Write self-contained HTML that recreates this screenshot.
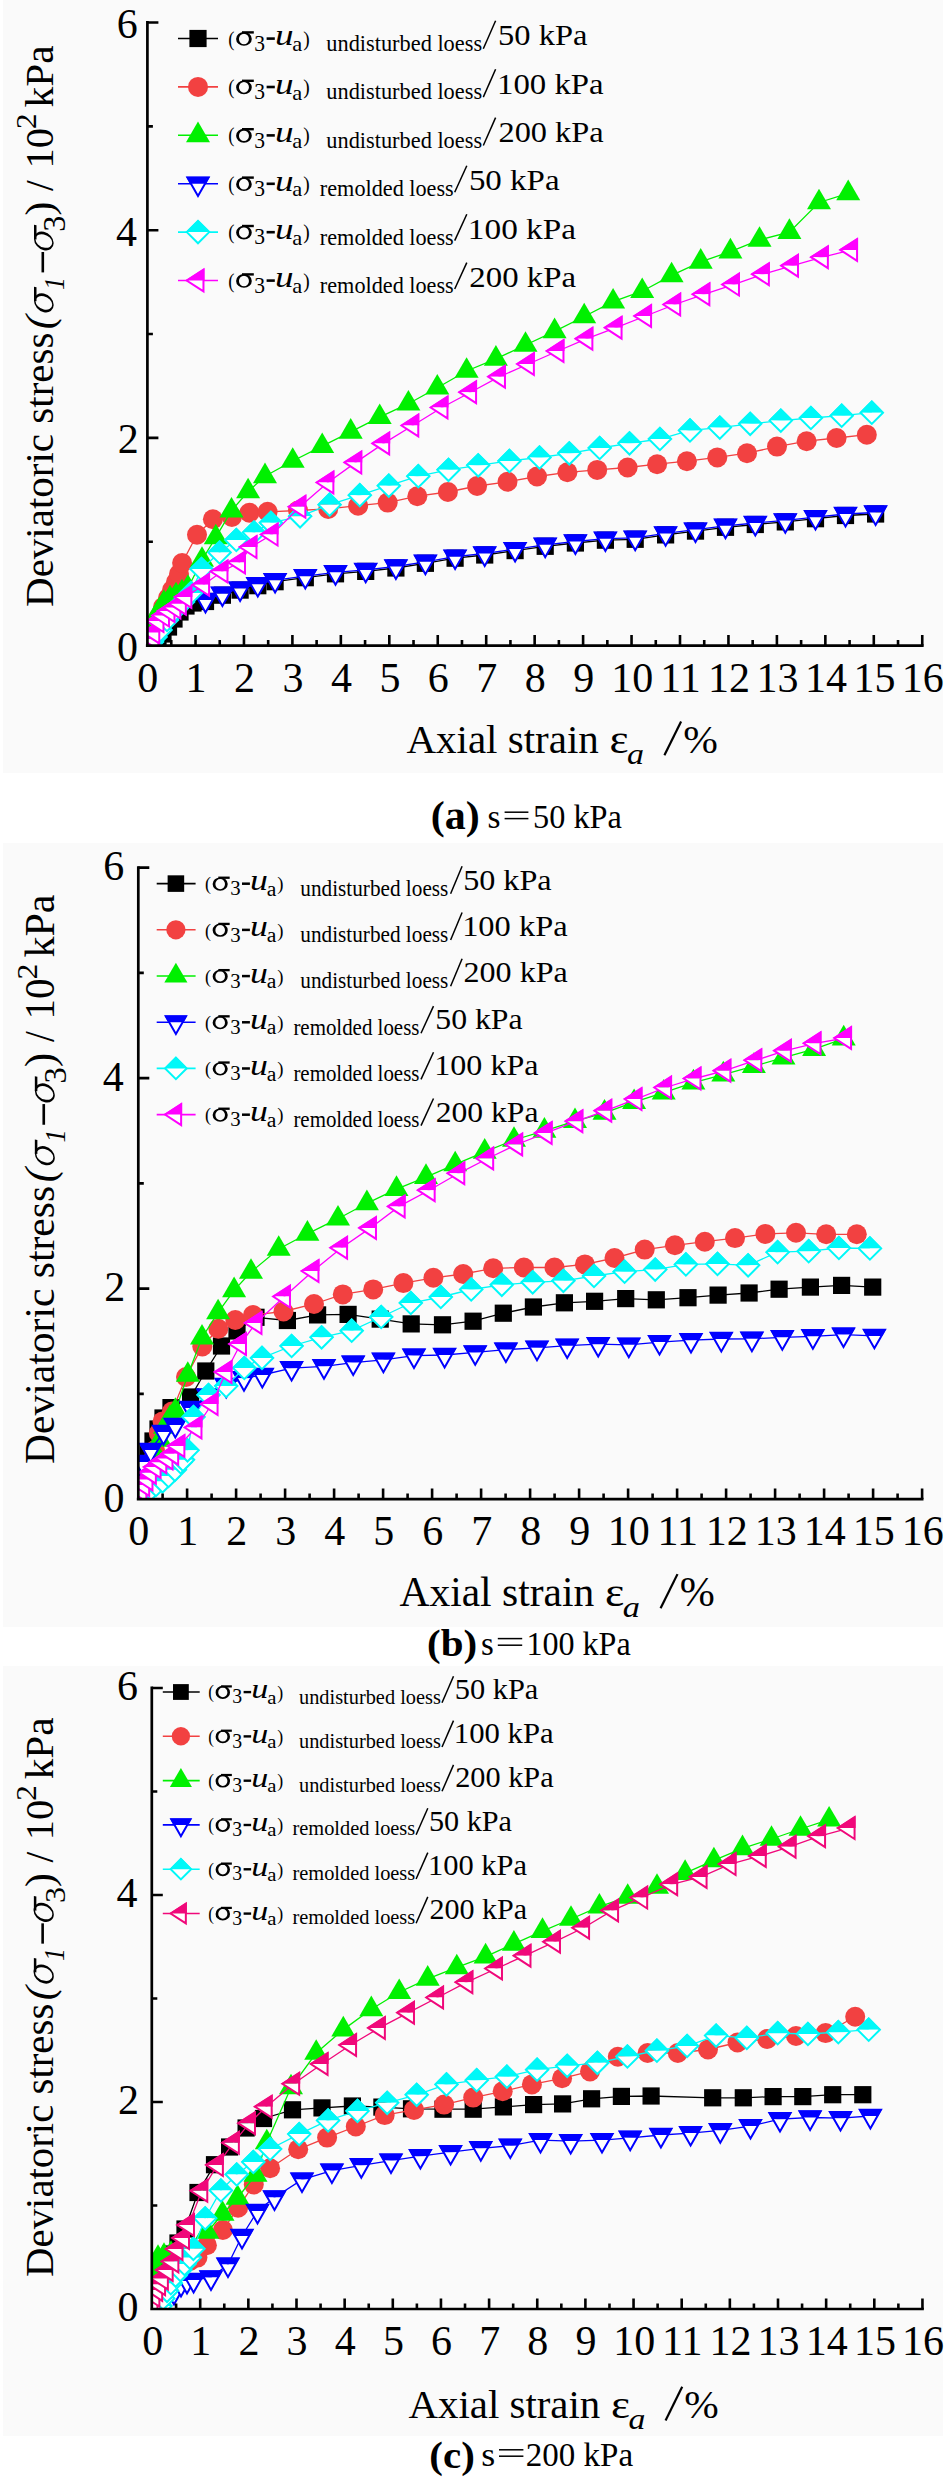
<!DOCTYPE html>
<html><head><meta charset="utf-8"><style>
html,body{margin:0;padding:0;background:#fff;overflow:hidden;}
svg{display:block;}
text{font-family:"Liberation Serif", serif;fill:#000;}
</style></head><body>
<svg width="947" height="2480" viewBox="0 0 947 2480">
<rect width="947" height="2480" fill="#fff"/>
<rect x="3" y="0" width="940" height="773" fill="#fafafa"/>
<clipPath id="clipa"><rect x="147.4" y="22.5" width="774.85" height="623.1"/></clipPath>
<g clip-path="url(#clipa)">
<polyline points="153,646 158,641 163,634 168.5,627 174,619 180,612 186,606 193,603 205.5,601.5 222.4,595.2 240.1,590.1 257.8,585.7 275.1,581.7 305.3,577.7 335.5,573.8 365.7,571.4 395.9,568 425.4,563.3 455.1,558.2 484.7,555 515.1,550.6 545.2,546.3 575.4,543 605.4,540.2 635.2,539.3 665.6,534.9 695.5,531.1 725.5,527.3 755.3,524.5 785.3,521.9 815.5,518.7 845.5,515.5 875.6,514" fill="none" stroke="#000000" stroke-width="1.3"/>
<rect x="144.4" y="637.4" width="17.2" height="17.2" fill="#000000"/>
<rect x="149.4" y="632.4" width="17.2" height="17.2" fill="#000000"/>
<rect x="154.4" y="625.4" width="17.2" height="17.2" fill="#000000"/>
<rect x="159.9" y="618.4" width="17.2" height="17.2" fill="#000000"/>
<rect x="165.4" y="610.4" width="17.2" height="17.2" fill="#000000"/>
<rect x="171.4" y="603.4" width="17.2" height="17.2" fill="#000000"/>
<rect x="177.4" y="597.4" width="17.2" height="17.2" fill="#000000"/>
<rect x="184.4" y="594.4" width="17.2" height="17.2" fill="#000000"/>
<rect x="196.9" y="592.9" width="17.2" height="17.2" fill="#000000"/>
<rect x="213.8" y="586.6" width="17.2" height="17.2" fill="#000000"/>
<rect x="231.5" y="581.5" width="17.2" height="17.2" fill="#000000"/>
<rect x="249.2" y="577.1" width="17.2" height="17.2" fill="#000000"/>
<rect x="266.5" y="573.1" width="17.2" height="17.2" fill="#000000"/>
<rect x="296.7" y="569.1" width="17.2" height="17.2" fill="#000000"/>
<rect x="326.9" y="565.2" width="17.2" height="17.2" fill="#000000"/>
<rect x="357.1" y="562.8" width="17.2" height="17.2" fill="#000000"/>
<rect x="387.3" y="559.4" width="17.2" height="17.2" fill="#000000"/>
<rect x="416.8" y="554.7" width="17.2" height="17.2" fill="#000000"/>
<rect x="446.5" y="549.6" width="17.2" height="17.2" fill="#000000"/>
<rect x="476.1" y="546.4" width="17.2" height="17.2" fill="#000000"/>
<rect x="506.5" y="542" width="17.2" height="17.2" fill="#000000"/>
<rect x="536.6" y="537.7" width="17.2" height="17.2" fill="#000000"/>
<rect x="566.8" y="534.4" width="17.2" height="17.2" fill="#000000"/>
<rect x="596.8" y="531.6" width="17.2" height="17.2" fill="#000000"/>
<rect x="626.6" y="530.7" width="17.2" height="17.2" fill="#000000"/>
<rect x="657" y="526.3" width="17.2" height="17.2" fill="#000000"/>
<rect x="686.9" y="522.5" width="17.2" height="17.2" fill="#000000"/>
<rect x="716.9" y="518.7" width="17.2" height="17.2" fill="#000000"/>
<rect x="746.7" y="515.9" width="17.2" height="17.2" fill="#000000"/>
<rect x="776.7" y="513.3" width="17.2" height="17.2" fill="#000000"/>
<rect x="806.9" y="510.1" width="17.2" height="17.2" fill="#000000"/>
<rect x="836.9" y="506.9" width="17.2" height="17.2" fill="#000000"/>
<rect x="867" y="505.4" width="17.2" height="17.2" fill="#000000"/>
<polyline points="152,640 155,628 159,617 163,607 168,598 172,590 176,582 179,574 182.1,563 197,534.7 212.9,519.3 231.9,517 249.4,512.7 267.6,511.8 298,510.5 328.2,508.9 358.1,505.7 387.7,502.6 417.3,496.2 447.9,492 477.1,486 507.5,481.8 537,476.5 567.4,472.3 597.2,469.9 627.6,467.5 657.1,464.2 686.9,461.2 717.3,457.4 747,453.2 777,446.6 806.6,441.2 836.6,438 866.8,434.7" fill="none" stroke="#f24141" stroke-width="1.3"/>
<circle cx="152" cy="640" r="10" fill="#f24141"/>
<circle cx="155" cy="628" r="10" fill="#f24141"/>
<circle cx="159" cy="617" r="10" fill="#f24141"/>
<circle cx="163" cy="607" r="10" fill="#f24141"/>
<circle cx="168" cy="598" r="10" fill="#f24141"/>
<circle cx="172" cy="590" r="10" fill="#f24141"/>
<circle cx="176" cy="582" r="10" fill="#f24141"/>
<circle cx="179" cy="574" r="10" fill="#f24141"/>
<circle cx="182.1" cy="563" r="10" fill="#f24141"/>
<circle cx="197" cy="534.7" r="10" fill="#f24141"/>
<circle cx="212.9" cy="519.3" r="10" fill="#f24141"/>
<circle cx="231.9" cy="517" r="10" fill="#f24141"/>
<circle cx="249.4" cy="512.7" r="10" fill="#f24141"/>
<circle cx="267.6" cy="511.8" r="10" fill="#f24141"/>
<circle cx="298" cy="510.5" r="10" fill="#f24141"/>
<circle cx="328.2" cy="508.9" r="10" fill="#f24141"/>
<circle cx="358.1" cy="505.7" r="10" fill="#f24141"/>
<circle cx="387.7" cy="502.6" r="10" fill="#f24141"/>
<circle cx="417.3" cy="496.2" r="10" fill="#f24141"/>
<circle cx="447.9" cy="492" r="10" fill="#f24141"/>
<circle cx="477.1" cy="486" r="10" fill="#f24141"/>
<circle cx="507.5" cy="481.8" r="10" fill="#f24141"/>
<circle cx="537" cy="476.5" r="10" fill="#f24141"/>
<circle cx="567.4" cy="472.3" r="10" fill="#f24141"/>
<circle cx="597.2" cy="469.9" r="10" fill="#f24141"/>
<circle cx="627.6" cy="467.5" r="10" fill="#f24141"/>
<circle cx="657.1" cy="464.2" r="10" fill="#f24141"/>
<circle cx="686.9" cy="461.2" r="10" fill="#f24141"/>
<circle cx="717.3" cy="457.4" r="10" fill="#f24141"/>
<circle cx="747" cy="453.2" r="10" fill="#f24141"/>
<circle cx="777" cy="446.6" r="10" fill="#f24141"/>
<circle cx="806.6" cy="441.2" r="10" fill="#f24141"/>
<circle cx="836.6" cy="438" r="10" fill="#f24141"/>
<circle cx="866.8" cy="434.7" r="10" fill="#f24141"/>
<polyline points="150,642 152,632 155,621 159,611 164,603 170,598.5 176,595.5 182,592.5 188,588 202,560 215.8,537.4 231.5,510.7 248.1,491.5 265,476.3 292.7,461 322.2,446.2 350.7,431.8 379.7,417.2 408.4,403.7 437.3,387.7 466.6,371 495.9,358.8 525.5,345 554.6,331.3 584.2,316.5 613.1,301.7 642.2,291.2 671.6,275.4 700.7,261.8 730.4,251.6 759.5,239.9 789.4,232.1 819,202.5 848.2,193.3" fill="none" stroke="#00f000" stroke-width="1.3"/>
<polygon points="150,628.27 162,648.87 138,648.87" fill="#00f000"/>
<polygon points="152,618.27 164,638.87 140,638.87" fill="#00f000"/>
<polygon points="155,607.27 167,627.87 143,627.87" fill="#00f000"/>
<polygon points="159,597.27 171,617.87 147,617.87" fill="#00f000"/>
<polygon points="164,589.27 176,609.87 152,609.87" fill="#00f000"/>
<polygon points="170,584.77 182,605.37 158,605.37" fill="#00f000"/>
<polygon points="176,581.77 188,602.37 164,602.37" fill="#00f000"/>
<polygon points="182,578.77 194,599.37 170,599.37" fill="#00f000"/>
<polygon points="188,574.27 200,594.87 176,594.87" fill="#00f000"/>
<polygon points="202,546.27 214,566.87 190,566.87" fill="#00f000"/>
<polygon points="215.8,523.67 227.8,544.27 203.8,544.27" fill="#00f000"/>
<polygon points="231.5,496.97 243.5,517.57 219.5,517.57" fill="#00f000"/>
<polygon points="248.1,477.77 260.1,498.37 236.1,498.37" fill="#00f000"/>
<polygon points="265,462.57 277,483.17 253,483.17" fill="#00f000"/>
<polygon points="292.7,447.27 304.7,467.87 280.7,467.87" fill="#00f000"/>
<polygon points="322.2,432.47 334.2,453.07 310.2,453.07" fill="#00f000"/>
<polygon points="350.7,418.07 362.7,438.67 338.7,438.67" fill="#00f000"/>
<polygon points="379.7,403.47 391.7,424.07 367.7,424.07" fill="#00f000"/>
<polygon points="408.4,389.97 420.4,410.57 396.4,410.57" fill="#00f000"/>
<polygon points="437.3,373.97 449.3,394.57 425.3,394.57" fill="#00f000"/>
<polygon points="466.6,357.27 478.6,377.87 454.6,377.87" fill="#00f000"/>
<polygon points="495.9,345.07 507.9,365.67 483.9,365.67" fill="#00f000"/>
<polygon points="525.5,331.27 537.5,351.87 513.5,351.87" fill="#00f000"/>
<polygon points="554.6,317.57 566.6,338.17 542.6,338.17" fill="#00f000"/>
<polygon points="584.2,302.77 596.2,323.37 572.2,323.37" fill="#00f000"/>
<polygon points="613.1,287.97 625.1,308.57 601.1,308.57" fill="#00f000"/>
<polygon points="642.2,277.47 654.2,298.07 630.2,298.07" fill="#00f000"/>
<polygon points="671.6,261.67 683.6,282.27 659.6,282.27" fill="#00f000"/>
<polygon points="700.7,248.07 712.7,268.67 688.7,268.67" fill="#00f000"/>
<polygon points="730.4,237.87 742.4,258.47 718.4,258.47" fill="#00f000"/>
<polygon points="759.5,226.17 771.5,246.77 747.5,246.77" fill="#00f000"/>
<polygon points="789.4,218.37 801.4,238.97 777.4,238.97" fill="#00f000"/>
<polygon points="819,188.77 831,209.37 807,209.37" fill="#00f000"/>
<polygon points="848.2,179.57 860.2,200.17 836.2,200.17" fill="#00f000"/>
<polyline points="205.5,600 222.4,593.7 240.1,588.6 257.8,584.2 275.1,580.2 305.3,576.2 335.5,572.3 365.7,569.9 395.9,566.5 425.4,561.8 455.1,556.7 484.7,553.5 515.1,549.1 545.2,544.8 575.4,541.5 605.4,538.7 635.2,537.8 665.6,533.4 695.5,529.6 725.5,525.8 755.3,523 785.3,520.4 815.5,517.2 845.5,514 875.6,512.5" fill="none" stroke="#0000ff" stroke-width="1.3"/>
<polygon points="193.7,593 217.3,593 213.37,600 197.63,600" fill="#0000ff"/><polygon points="198.23,600 212.77,600 205.5,612.4" fill="#fff"/><polygon points="194.9,593.8 216.1,593.8 205.5,612.4" fill="none" stroke="#0000ff" stroke-width="2"/>
<polygon points="210.6,586.7 234.2,586.7 230.27,593.7 214.53,593.7" fill="#0000ff"/><polygon points="215.13,593.7 229.67,593.7 222.4,606.1" fill="#fff"/><polygon points="211.8,587.5 233,587.5 222.4,606.1" fill="none" stroke="#0000ff" stroke-width="2"/>
<polygon points="228.3,581.6 251.9,581.6 247.97,588.6 232.23,588.6" fill="#0000ff"/><polygon points="232.83,588.6 247.37,588.6 240.1,601" fill="#fff"/><polygon points="229.5,582.4 250.7,582.4 240.1,601" fill="none" stroke="#0000ff" stroke-width="2"/>
<polygon points="246,577.2 269.6,577.2 265.67,584.2 249.93,584.2" fill="#0000ff"/><polygon points="250.53,584.2 265.07,584.2 257.8,596.6" fill="#fff"/><polygon points="247.2,578 268.4,578 257.8,596.6" fill="none" stroke="#0000ff" stroke-width="2"/>
<polygon points="263.3,573.2 286.9,573.2 282.97,580.2 267.23,580.2" fill="#0000ff"/><polygon points="267.83,580.2 282.37,580.2 275.1,592.6" fill="#fff"/><polygon points="264.5,574 285.7,574 275.1,592.6" fill="none" stroke="#0000ff" stroke-width="2"/>
<polygon points="293.5,569.2 317.1,569.2 313.17,576.2 297.43,576.2" fill="#0000ff"/><polygon points="298.03,576.2 312.57,576.2 305.3,588.6" fill="#fff"/><polygon points="294.7,570 315.9,570 305.3,588.6" fill="none" stroke="#0000ff" stroke-width="2"/>
<polygon points="323.7,565.3 347.3,565.3 343.37,572.3 327.63,572.3" fill="#0000ff"/><polygon points="328.23,572.3 342.77,572.3 335.5,584.7" fill="#fff"/><polygon points="324.9,566.1 346.1,566.1 335.5,584.7" fill="none" stroke="#0000ff" stroke-width="2"/>
<polygon points="353.9,562.9 377.5,562.9 373.57,569.9 357.83,569.9" fill="#0000ff"/><polygon points="358.43,569.9 372.97,569.9 365.7,582.3" fill="#fff"/><polygon points="355.1,563.7 376.3,563.7 365.7,582.3" fill="none" stroke="#0000ff" stroke-width="2"/>
<polygon points="384.1,559.5 407.7,559.5 403.77,566.5 388.03,566.5" fill="#0000ff"/><polygon points="388.63,566.5 403.17,566.5 395.9,578.9" fill="#fff"/><polygon points="385.3,560.3 406.5,560.3 395.9,578.9" fill="none" stroke="#0000ff" stroke-width="2"/>
<polygon points="413.6,554.8 437.2,554.8 433.27,561.8 417.53,561.8" fill="#0000ff"/><polygon points="418.13,561.8 432.67,561.8 425.4,574.2" fill="#fff"/><polygon points="414.8,555.6 436,555.6 425.4,574.2" fill="none" stroke="#0000ff" stroke-width="2"/>
<polygon points="443.3,549.7 466.9,549.7 462.97,556.7 447.23,556.7" fill="#0000ff"/><polygon points="447.83,556.7 462.37,556.7 455.1,569.1" fill="#fff"/><polygon points="444.5,550.5 465.7,550.5 455.1,569.1" fill="none" stroke="#0000ff" stroke-width="2"/>
<polygon points="472.9,546.5 496.5,546.5 492.57,553.5 476.83,553.5" fill="#0000ff"/><polygon points="477.43,553.5 491.97,553.5 484.7,565.9" fill="#fff"/><polygon points="474.1,547.3 495.3,547.3 484.7,565.9" fill="none" stroke="#0000ff" stroke-width="2"/>
<polygon points="503.3,542.1 526.9,542.1 522.97,549.1 507.23,549.1" fill="#0000ff"/><polygon points="507.83,549.1 522.37,549.1 515.1,561.5" fill="#fff"/><polygon points="504.5,542.9 525.7,542.9 515.1,561.5" fill="none" stroke="#0000ff" stroke-width="2"/>
<polygon points="533.4,537.8 557,537.8 553.07,544.8 537.33,544.8" fill="#0000ff"/><polygon points="537.93,544.8 552.47,544.8 545.2,557.2" fill="#fff"/><polygon points="534.6,538.6 555.8,538.6 545.2,557.2" fill="none" stroke="#0000ff" stroke-width="2"/>
<polygon points="563.6,534.5 587.2,534.5 583.27,541.5 567.53,541.5" fill="#0000ff"/><polygon points="568.13,541.5 582.67,541.5 575.4,553.9" fill="#fff"/><polygon points="564.8,535.3 586,535.3 575.4,553.9" fill="none" stroke="#0000ff" stroke-width="2"/>
<polygon points="593.6,531.7 617.2,531.7 613.27,538.7 597.53,538.7" fill="#0000ff"/><polygon points="598.13,538.7 612.67,538.7 605.4,551.1" fill="#fff"/><polygon points="594.8,532.5 616,532.5 605.4,551.1" fill="none" stroke="#0000ff" stroke-width="2"/>
<polygon points="623.4,530.8 647,530.8 643.07,537.8 627.33,537.8" fill="#0000ff"/><polygon points="627.93,537.8 642.47,537.8 635.2,550.2" fill="#fff"/><polygon points="624.6,531.6 645.8,531.6 635.2,550.2" fill="none" stroke="#0000ff" stroke-width="2"/>
<polygon points="653.8,526.4 677.4,526.4 673.47,533.4 657.73,533.4" fill="#0000ff"/><polygon points="658.33,533.4 672.87,533.4 665.6,545.8" fill="#fff"/><polygon points="655,527.2 676.2,527.2 665.6,545.8" fill="none" stroke="#0000ff" stroke-width="2"/>
<polygon points="683.7,522.6 707.3,522.6 703.37,529.6 687.63,529.6" fill="#0000ff"/><polygon points="688.23,529.6 702.77,529.6 695.5,542" fill="#fff"/><polygon points="684.9,523.4 706.1,523.4 695.5,542" fill="none" stroke="#0000ff" stroke-width="2"/>
<polygon points="713.7,518.8 737.3,518.8 733.37,525.8 717.63,525.8" fill="#0000ff"/><polygon points="718.23,525.8 732.77,525.8 725.5,538.2" fill="#fff"/><polygon points="714.9,519.6 736.1,519.6 725.5,538.2" fill="none" stroke="#0000ff" stroke-width="2"/>
<polygon points="743.5,516 767.1,516 763.17,523 747.43,523" fill="#0000ff"/><polygon points="748.03,523 762.57,523 755.3,535.4" fill="#fff"/><polygon points="744.7,516.8 765.9,516.8 755.3,535.4" fill="none" stroke="#0000ff" stroke-width="2"/>
<polygon points="773.5,513.4 797.1,513.4 793.17,520.4 777.43,520.4" fill="#0000ff"/><polygon points="778.03,520.4 792.57,520.4 785.3,532.8" fill="#fff"/><polygon points="774.7,514.2 795.9,514.2 785.3,532.8" fill="none" stroke="#0000ff" stroke-width="2"/>
<polygon points="803.7,510.2 827.3,510.2 823.37,517.2 807.63,517.2" fill="#0000ff"/><polygon points="808.23,517.2 822.77,517.2 815.5,529.6" fill="#fff"/><polygon points="804.9,511 826.1,511 815.5,529.6" fill="none" stroke="#0000ff" stroke-width="2"/>
<polygon points="833.7,507 857.3,507 853.37,514 837.63,514" fill="#0000ff"/><polygon points="838.23,514 852.77,514 845.5,526.4" fill="#fff"/><polygon points="834.9,507.8 856.1,507.8 845.5,526.4" fill="none" stroke="#0000ff" stroke-width="2"/>
<polygon points="863.8,505.5 887.4,505.5 883.47,512.5 867.73,512.5" fill="#0000ff"/><polygon points="868.33,512.5 882.87,512.5 875.6,524.9" fill="#fff"/><polygon points="865,506.3 886.2,506.3 875.6,524.9" fill="none" stroke="#0000ff" stroke-width="2"/>
<polyline points="150,645 152,642 155.5,637 160.5,630 167,620 175,610 183,602 191,593 201.5,569 219.6,552.5 236.3,540 254,532.5 270.9,522.8 300.1,516.3 329.6,504.7 359.8,495.2 388.8,485.7 418.3,476.2 448.5,469.8 478.2,465.3 509.4,460.9 539.5,457.5 569.3,453.3 599.7,448 629.5,443.3 659.9,439 690,430.4 719.8,427.6 750.2,423.8 780.8,420.6 810.9,418 841.7,415.7 871.8,412.7" fill="none" stroke="#00f8f8" stroke-width="1.3"/>
<polygon points="137.6,645 150,632.6 162.4,645" fill="#00f8f8"/><polygon points="138.8,645 161.2,645 150,656.2" fill="#fff"/><polygon points="138.8,645 150,633.8 161.2,645 150,656.2" fill="none" stroke="#00f8f8" stroke-width="2"/>
<polygon points="139.6,642 152,629.6 164.4,642" fill="#00f8f8"/><polygon points="140.8,642 163.2,642 152,653.2" fill="#fff"/><polygon points="140.8,642 152,630.8 163.2,642 152,653.2" fill="none" stroke="#00f8f8" stroke-width="2"/>
<polygon points="143.1,637 155.5,624.6 167.9,637" fill="#00f8f8"/><polygon points="144.3,637 166.7,637 155.5,648.2" fill="#fff"/><polygon points="144.3,637 155.5,625.8 166.7,637 155.5,648.2" fill="none" stroke="#00f8f8" stroke-width="2"/>
<polygon points="148.1,630 160.5,617.6 172.9,630" fill="#00f8f8"/><polygon points="149.3,630 171.7,630 160.5,641.2" fill="#fff"/><polygon points="149.3,630 160.5,618.8 171.7,630 160.5,641.2" fill="none" stroke="#00f8f8" stroke-width="2"/>
<polygon points="154.6,620 167,607.6 179.4,620" fill="#00f8f8"/><polygon points="155.8,620 178.2,620 167,631.2" fill="#fff"/><polygon points="155.8,620 167,608.8 178.2,620 167,631.2" fill="none" stroke="#00f8f8" stroke-width="2"/>
<polygon points="162.6,610 175,597.6 187.4,610" fill="#00f8f8"/><polygon points="163.8,610 186.2,610 175,621.2" fill="#fff"/><polygon points="163.8,610 175,598.8 186.2,610 175,621.2" fill="none" stroke="#00f8f8" stroke-width="2"/>
<polygon points="170.6,602 183,589.6 195.4,602" fill="#00f8f8"/><polygon points="171.8,602 194.2,602 183,613.2" fill="#fff"/><polygon points="171.8,602 183,590.8 194.2,602 183,613.2" fill="none" stroke="#00f8f8" stroke-width="2"/>
<polygon points="178.6,593 191,580.6 203.4,593" fill="#00f8f8"/><polygon points="179.8,593 202.2,593 191,604.2" fill="#fff"/><polygon points="179.8,593 191,581.8 202.2,593 191,604.2" fill="none" stroke="#00f8f8" stroke-width="2"/>
<polygon points="189.1,569 201.5,556.6 213.9,569" fill="#00f8f8"/><polygon points="190.3,569 212.7,569 201.5,580.2" fill="#fff"/><polygon points="190.3,569 201.5,557.8 212.7,569 201.5,580.2" fill="none" stroke="#00f8f8" stroke-width="2"/>
<polygon points="207.2,552.5 219.6,540.1 232,552.5" fill="#00f8f8"/><polygon points="208.4,552.5 230.8,552.5 219.6,563.7" fill="#fff"/><polygon points="208.4,552.5 219.6,541.3 230.8,552.5 219.6,563.7" fill="none" stroke="#00f8f8" stroke-width="2"/>
<polygon points="223.9,540 236.3,527.6 248.7,540" fill="#00f8f8"/><polygon points="225.1,540 247.5,540 236.3,551.2" fill="#fff"/><polygon points="225.1,540 236.3,528.8 247.5,540 236.3,551.2" fill="none" stroke="#00f8f8" stroke-width="2"/>
<polygon points="241.6,532.5 254,520.1 266.4,532.5" fill="#00f8f8"/><polygon points="242.8,532.5 265.2,532.5 254,543.7" fill="#fff"/><polygon points="242.8,532.5 254,521.3 265.2,532.5 254,543.7" fill="none" stroke="#00f8f8" stroke-width="2"/>
<polygon points="258.5,522.8 270.9,510.4 283.3,522.8" fill="#00f8f8"/><polygon points="259.7,522.8 282.1,522.8 270.9,534" fill="#fff"/><polygon points="259.7,522.8 270.9,511.6 282.1,522.8 270.9,534" fill="none" stroke="#00f8f8" stroke-width="2"/>
<polygon points="287.7,516.3 300.1,503.9 312.5,516.3" fill="#00f8f8"/><polygon points="288.9,516.3 311.3,516.3 300.1,527.5" fill="#fff"/><polygon points="288.9,516.3 300.1,505.1 311.3,516.3 300.1,527.5" fill="none" stroke="#00f8f8" stroke-width="2"/>
<polygon points="317.2,504.7 329.6,492.3 342,504.7" fill="#00f8f8"/><polygon points="318.4,504.7 340.8,504.7 329.6,515.9" fill="#fff"/><polygon points="318.4,504.7 329.6,493.5 340.8,504.7 329.6,515.9" fill="none" stroke="#00f8f8" stroke-width="2"/>
<polygon points="347.4,495.2 359.8,482.8 372.2,495.2" fill="#00f8f8"/><polygon points="348.6,495.2 371,495.2 359.8,506.4" fill="#fff"/><polygon points="348.6,495.2 359.8,484 371,495.2 359.8,506.4" fill="none" stroke="#00f8f8" stroke-width="2"/>
<polygon points="376.4,485.7 388.8,473.3 401.2,485.7" fill="#00f8f8"/><polygon points="377.6,485.7 400,485.7 388.8,496.9" fill="#fff"/><polygon points="377.6,485.7 388.8,474.5 400,485.7 388.8,496.9" fill="none" stroke="#00f8f8" stroke-width="2"/>
<polygon points="405.9,476.2 418.3,463.8 430.7,476.2" fill="#00f8f8"/><polygon points="407.1,476.2 429.5,476.2 418.3,487.4" fill="#fff"/><polygon points="407.1,476.2 418.3,465 429.5,476.2 418.3,487.4" fill="none" stroke="#00f8f8" stroke-width="2"/>
<polygon points="436.1,469.8 448.5,457.4 460.9,469.8" fill="#00f8f8"/><polygon points="437.3,469.8 459.7,469.8 448.5,481" fill="#fff"/><polygon points="437.3,469.8 448.5,458.6 459.7,469.8 448.5,481" fill="none" stroke="#00f8f8" stroke-width="2"/>
<polygon points="465.8,465.3 478.2,452.9 490.6,465.3" fill="#00f8f8"/><polygon points="467,465.3 489.4,465.3 478.2,476.5" fill="#fff"/><polygon points="467,465.3 478.2,454.1 489.4,465.3 478.2,476.5" fill="none" stroke="#00f8f8" stroke-width="2"/>
<polygon points="497,460.9 509.4,448.5 521.8,460.9" fill="#00f8f8"/><polygon points="498.2,460.9 520.6,460.9 509.4,472.1" fill="#fff"/><polygon points="498.2,460.9 509.4,449.7 520.6,460.9 509.4,472.1" fill="none" stroke="#00f8f8" stroke-width="2"/>
<polygon points="527.1,457.5 539.5,445.1 551.9,457.5" fill="#00f8f8"/><polygon points="528.3,457.5 550.7,457.5 539.5,468.7" fill="#fff"/><polygon points="528.3,457.5 539.5,446.3 550.7,457.5 539.5,468.7" fill="none" stroke="#00f8f8" stroke-width="2"/>
<polygon points="556.9,453.3 569.3,440.9 581.7,453.3" fill="#00f8f8"/><polygon points="558.1,453.3 580.5,453.3 569.3,464.5" fill="#fff"/><polygon points="558.1,453.3 569.3,442.1 580.5,453.3 569.3,464.5" fill="none" stroke="#00f8f8" stroke-width="2"/>
<polygon points="587.3,448 599.7,435.6 612.1,448" fill="#00f8f8"/><polygon points="588.5,448 610.9,448 599.7,459.2" fill="#fff"/><polygon points="588.5,448 599.7,436.8 610.9,448 599.7,459.2" fill="none" stroke="#00f8f8" stroke-width="2"/>
<polygon points="617.1,443.3 629.5,430.9 641.9,443.3" fill="#00f8f8"/><polygon points="618.3,443.3 640.7,443.3 629.5,454.5" fill="#fff"/><polygon points="618.3,443.3 629.5,432.1 640.7,443.3 629.5,454.5" fill="none" stroke="#00f8f8" stroke-width="2"/>
<polygon points="647.5,439 659.9,426.6 672.3,439" fill="#00f8f8"/><polygon points="648.7,439 671.1,439 659.9,450.2" fill="#fff"/><polygon points="648.7,439 659.9,427.8 671.1,439 659.9,450.2" fill="none" stroke="#00f8f8" stroke-width="2"/>
<polygon points="677.6,430.4 690,418 702.4,430.4" fill="#00f8f8"/><polygon points="678.8,430.4 701.2,430.4 690,441.6" fill="#fff"/><polygon points="678.8,430.4 690,419.2 701.2,430.4 690,441.6" fill="none" stroke="#00f8f8" stroke-width="2"/>
<polygon points="707.4,427.6 719.8,415.2 732.2,427.6" fill="#00f8f8"/><polygon points="708.6,427.6 731,427.6 719.8,438.8" fill="#fff"/><polygon points="708.6,427.6 719.8,416.4 731,427.6 719.8,438.8" fill="none" stroke="#00f8f8" stroke-width="2"/>
<polygon points="737.8,423.8 750.2,411.4 762.6,423.8" fill="#00f8f8"/><polygon points="739,423.8 761.4,423.8 750.2,435" fill="#fff"/><polygon points="739,423.8 750.2,412.6 761.4,423.8 750.2,435" fill="none" stroke="#00f8f8" stroke-width="2"/>
<polygon points="768.4,420.6 780.8,408.2 793.2,420.6" fill="#00f8f8"/><polygon points="769.6,420.6 792,420.6 780.8,431.8" fill="#fff"/><polygon points="769.6,420.6 780.8,409.4 792,420.6 780.8,431.8" fill="none" stroke="#00f8f8" stroke-width="2"/>
<polygon points="798.5,418 810.9,405.6 823.3,418" fill="#00f8f8"/><polygon points="799.7,418 822.1,418 810.9,429.2" fill="#fff"/><polygon points="799.7,418 810.9,406.8 822.1,418 810.9,429.2" fill="none" stroke="#00f8f8" stroke-width="2"/>
<polygon points="829.3,415.7 841.7,403.3 854.1,415.7" fill="#00f8f8"/><polygon points="830.5,415.7 852.9,415.7 841.7,426.9" fill="#fff"/><polygon points="830.5,415.7 841.7,404.5 852.9,415.7 841.7,426.9" fill="none" stroke="#00f8f8" stroke-width="2"/>
<polygon points="859.4,412.7 871.8,400.3 884.2,412.7" fill="#00f8f8"/><polygon points="860.6,412.7 883,412.7 871.8,423.9" fill="#fff"/><polygon points="860.6,412.7 871.8,401.5 883,412.7 871.8,423.9" fill="none" stroke="#00f8f8" stroke-width="2"/>
<polyline points="152.5,644.5 153,639 153.8,632.5 158,621.1 163.5,615.6 169,611 174.9,607.6 180.4,603.8 185.9,597 203.6,584.8 222,571.5 239.5,562.5 251,547 272.1,534.6 299.9,506.8 327.9,482.5 355.8,462.4 383.7,443.4 412.8,425.5 442,407.5 470.6,392.2 499.5,376.7 528.4,364 558,351 586.9,338.7 616.1,327.7 645.6,316 674.7,304.5 703.9,294.3 733.5,284.6 763.4,274.2 792.5,265.7 822.4,257.2 851.6,249.9" fill="none" stroke="#ff00ff" stroke-width="1.3"/>
<polygon points="139.57,644.5 158.97,632.3 158.97,644.5" fill="#ff00ff"/><polygon points="141.17,644.5 157.97,644.5 157.97,655.4" fill="#fff"/><polygon points="141.17,644.5 157.97,633.6 157.97,655.4" fill="none" stroke="#ff00ff" stroke-width="2"/>
<polygon points="140.07,639 159.47,626.8 159.47,639" fill="#ff00ff"/><polygon points="141.67,639 158.47,639 158.47,649.9" fill="#fff"/><polygon points="141.67,639 158.47,628.1 158.47,649.9" fill="none" stroke="#ff00ff" stroke-width="2"/>
<polygon points="140.87,632.5 160.27,620.3 160.27,632.5" fill="#ff00ff"/><polygon points="142.47,632.5 159.27,632.5 159.27,643.4" fill="#fff"/><polygon points="142.47,632.5 159.27,621.6 159.27,643.4" fill="none" stroke="#ff00ff" stroke-width="2"/>
<polygon points="145.07,621.1 164.47,608.9 164.47,621.1" fill="#ff00ff"/><polygon points="146.67,621.1 163.47,621.1 163.47,632" fill="#fff"/><polygon points="146.67,621.1 163.47,610.2 163.47,632" fill="none" stroke="#ff00ff" stroke-width="2"/>
<polygon points="150.57,615.6 169.97,603.4 169.97,615.6" fill="#ff00ff"/><polygon points="152.17,615.6 168.97,615.6 168.97,626.5" fill="#fff"/><polygon points="152.17,615.6 168.97,604.7 168.97,626.5" fill="none" stroke="#ff00ff" stroke-width="2"/>
<polygon points="156.07,611 175.47,598.8 175.47,611" fill="#ff00ff"/><polygon points="157.67,611 174.47,611 174.47,621.9" fill="#fff"/><polygon points="157.67,611 174.47,600.1 174.47,621.9" fill="none" stroke="#ff00ff" stroke-width="2"/>
<polygon points="161.97,607.6 181.37,595.4 181.37,607.6" fill="#ff00ff"/><polygon points="163.57,607.6 180.37,607.6 180.37,618.5" fill="#fff"/><polygon points="163.57,607.6 180.37,596.7 180.37,618.5" fill="none" stroke="#ff00ff" stroke-width="2"/>
<polygon points="167.47,603.8 186.87,591.6 186.87,603.8" fill="#ff00ff"/><polygon points="169.07,603.8 185.87,603.8 185.87,614.7" fill="#fff"/><polygon points="169.07,603.8 185.87,592.9 185.87,614.7" fill="none" stroke="#ff00ff" stroke-width="2"/>
<polygon points="172.97,597 192.37,584.8 192.37,597" fill="#ff00ff"/><polygon points="174.57,597 191.37,597 191.37,607.9" fill="#fff"/><polygon points="174.57,597 191.37,586.1 191.37,607.9" fill="none" stroke="#ff00ff" stroke-width="2"/>
<polygon points="190.67,584.8 210.07,572.6 210.07,584.8" fill="#ff00ff"/><polygon points="192.27,584.8 209.07,584.8 209.07,595.7" fill="#fff"/><polygon points="192.27,584.8 209.07,573.9 209.07,595.7" fill="none" stroke="#ff00ff" stroke-width="2"/>
<polygon points="209.07,571.5 228.47,559.3 228.47,571.5" fill="#ff00ff"/><polygon points="210.67,571.5 227.47,571.5 227.47,582.4" fill="#fff"/><polygon points="210.67,571.5 227.47,560.6 227.47,582.4" fill="none" stroke="#ff00ff" stroke-width="2"/>
<polygon points="226.57,562.5 245.97,550.3 245.97,562.5" fill="#ff00ff"/><polygon points="228.17,562.5 244.97,562.5 244.97,573.4" fill="#fff"/><polygon points="228.17,562.5 244.97,551.6 244.97,573.4" fill="none" stroke="#ff00ff" stroke-width="2"/>
<polygon points="238.07,547 257.47,534.8 257.47,547" fill="#ff00ff"/><polygon points="239.67,547 256.47,547 256.47,557.9" fill="#fff"/><polygon points="239.67,547 256.47,536.1 256.47,557.9" fill="none" stroke="#ff00ff" stroke-width="2"/>
<polygon points="259.17,534.6 278.57,522.4 278.57,534.6" fill="#ff00ff"/><polygon points="260.77,534.6 277.57,534.6 277.57,545.5" fill="#fff"/><polygon points="260.77,534.6 277.57,523.7 277.57,545.5" fill="none" stroke="#ff00ff" stroke-width="2"/>
<polygon points="286.97,506.8 306.37,494.6 306.37,506.8" fill="#ff00ff"/><polygon points="288.57,506.8 305.37,506.8 305.37,517.7" fill="#fff"/><polygon points="288.57,506.8 305.37,495.9 305.37,517.7" fill="none" stroke="#ff00ff" stroke-width="2"/>
<polygon points="314.97,482.5 334.37,470.3 334.37,482.5" fill="#ff00ff"/><polygon points="316.57,482.5 333.37,482.5 333.37,493.4" fill="#fff"/><polygon points="316.57,482.5 333.37,471.6 333.37,493.4" fill="none" stroke="#ff00ff" stroke-width="2"/>
<polygon points="342.87,462.4 362.27,450.2 362.27,462.4" fill="#ff00ff"/><polygon points="344.47,462.4 361.27,462.4 361.27,473.3" fill="#fff"/><polygon points="344.47,462.4 361.27,451.5 361.27,473.3" fill="none" stroke="#ff00ff" stroke-width="2"/>
<polygon points="370.77,443.4 390.17,431.2 390.17,443.4" fill="#ff00ff"/><polygon points="372.37,443.4 389.17,443.4 389.17,454.3" fill="#fff"/><polygon points="372.37,443.4 389.17,432.5 389.17,454.3" fill="none" stroke="#ff00ff" stroke-width="2"/>
<polygon points="399.87,425.5 419.27,413.3 419.27,425.5" fill="#ff00ff"/><polygon points="401.47,425.5 418.27,425.5 418.27,436.4" fill="#fff"/><polygon points="401.47,425.5 418.27,414.6 418.27,436.4" fill="none" stroke="#ff00ff" stroke-width="2"/>
<polygon points="429.07,407.5 448.47,395.3 448.47,407.5" fill="#ff00ff"/><polygon points="430.67,407.5 447.47,407.5 447.47,418.4" fill="#fff"/><polygon points="430.67,407.5 447.47,396.6 447.47,418.4" fill="none" stroke="#ff00ff" stroke-width="2"/>
<polygon points="457.67,392.2 477.07,380 477.07,392.2" fill="#ff00ff"/><polygon points="459.27,392.2 476.07,392.2 476.07,403.1" fill="#fff"/><polygon points="459.27,392.2 476.07,381.3 476.07,403.1" fill="none" stroke="#ff00ff" stroke-width="2"/>
<polygon points="486.57,376.7 505.97,364.5 505.97,376.7" fill="#ff00ff"/><polygon points="488.17,376.7 504.97,376.7 504.97,387.6" fill="#fff"/><polygon points="488.17,376.7 504.97,365.8 504.97,387.6" fill="none" stroke="#ff00ff" stroke-width="2"/>
<polygon points="515.47,364 534.87,351.8 534.87,364" fill="#ff00ff"/><polygon points="517.07,364 533.87,364 533.87,374.9" fill="#fff"/><polygon points="517.07,364 533.87,353.1 533.87,374.9" fill="none" stroke="#ff00ff" stroke-width="2"/>
<polygon points="545.07,351 564.47,338.8 564.47,351" fill="#ff00ff"/><polygon points="546.67,351 563.47,351 563.47,361.9" fill="#fff"/><polygon points="546.67,351 563.47,340.1 563.47,361.9" fill="none" stroke="#ff00ff" stroke-width="2"/>
<polygon points="573.97,338.7 593.37,326.5 593.37,338.7" fill="#ff00ff"/><polygon points="575.57,338.7 592.37,338.7 592.37,349.6" fill="#fff"/><polygon points="575.57,338.7 592.37,327.8 592.37,349.6" fill="none" stroke="#ff00ff" stroke-width="2"/>
<polygon points="603.17,327.7 622.57,315.5 622.57,327.7" fill="#ff00ff"/><polygon points="604.77,327.7 621.57,327.7 621.57,338.6" fill="#fff"/><polygon points="604.77,327.7 621.57,316.8 621.57,338.6" fill="none" stroke="#ff00ff" stroke-width="2"/>
<polygon points="632.67,316 652.07,303.8 652.07,316" fill="#ff00ff"/><polygon points="634.27,316 651.07,316 651.07,326.9" fill="#fff"/><polygon points="634.27,316 651.07,305.1 651.07,326.9" fill="none" stroke="#ff00ff" stroke-width="2"/>
<polygon points="661.77,304.5 681.17,292.3 681.17,304.5" fill="#ff00ff"/><polygon points="663.37,304.5 680.17,304.5 680.17,315.4" fill="#fff"/><polygon points="663.37,304.5 680.17,293.6 680.17,315.4" fill="none" stroke="#ff00ff" stroke-width="2"/>
<polygon points="690.97,294.3 710.37,282.1 710.37,294.3" fill="#ff00ff"/><polygon points="692.57,294.3 709.37,294.3 709.37,305.2" fill="#fff"/><polygon points="692.57,294.3 709.37,283.4 709.37,305.2" fill="none" stroke="#ff00ff" stroke-width="2"/>
<polygon points="720.57,284.6 739.97,272.4 739.97,284.6" fill="#ff00ff"/><polygon points="722.17,284.6 738.97,284.6 738.97,295.5" fill="#fff"/><polygon points="722.17,284.6 738.97,273.7 738.97,295.5" fill="none" stroke="#ff00ff" stroke-width="2"/>
<polygon points="750.47,274.2 769.87,262 769.87,274.2" fill="#ff00ff"/><polygon points="752.07,274.2 768.87,274.2 768.87,285.1" fill="#fff"/><polygon points="752.07,274.2 768.87,263.3 768.87,285.1" fill="none" stroke="#ff00ff" stroke-width="2"/>
<polygon points="779.57,265.7 798.97,253.5 798.97,265.7" fill="#ff00ff"/><polygon points="781.17,265.7 797.97,265.7 797.97,276.6" fill="#fff"/><polygon points="781.17,265.7 797.97,254.8 797.97,276.6" fill="none" stroke="#ff00ff" stroke-width="2"/>
<polygon points="809.47,257.2 828.87,245 828.87,257.2" fill="#ff00ff"/><polygon points="811.07,257.2 827.87,257.2 827.87,268.1" fill="#fff"/><polygon points="811.07,257.2 827.87,246.3 827.87,268.1" fill="none" stroke="#ff00ff" stroke-width="2"/>
<polygon points="838.67,249.9 858.07,237.7 858.07,249.9" fill="#ff00ff"/><polygon points="840.27,249.9 857.07,249.9 857.07,260.8" fill="#fff"/><polygon points="840.27,249.9 857.07,239 857.07,260.8" fill="none" stroke="#ff00ff" stroke-width="2"/>
</g>
<path d="M147.4,21.1 V645.6 M145.9,645.6 H923.65" stroke="#000" stroke-width="2.7" fill="none"/>
<path d="M171.28,645.6 v-5.5 M195.5,645.6 v-10.5 M219.73,645.6 v-5.5 M243.95,645.6 v-10.5 M268.18,645.6 v-5.5 M292.4,645.6 v-10.5 M316.62,645.6 v-5.5 M340.85,645.6 v-10.5 M365.08,645.6 v-5.5 M389.3,645.6 v-10.5 M413.53,645.6 v-5.5 M437.75,645.6 v-10.5 M461.98,645.6 v-5.5 M486.2,645.6 v-10.5 M510.43,645.6 v-5.5 M534.65,645.6 v-10.5 M558.88,645.6 v-5.5 M583.1,645.6 v-10.5 M607.33,645.6 v-5.5 M631.55,645.6 v-10.5 M655.78,645.6 v-5.5 M680,645.6 v-10.5 M704.23,645.6 v-5.5 M728.45,645.6 v-10.5 M752.67,645.6 v-5.5 M776.9,645.6 v-10.5 M801.12,645.6 v-5.5 M825.35,645.6 v-10.5 M849.58,645.6 v-5.5 M873.8,645.6 v-10.5 M898.03,645.6 v-5.5 M922.25,645.6 v-10.5 M147.4,541.75 h5.5 M147.4,437.9 h11 M147.4,334.05 h5.5 M147.4,230.2 h11 M147.4,126.35 h5.5 M147.4,22.5 h11" stroke="#000" stroke-width="2.6" fill="none"/>
<text x="117" y="660.9" font-size="42">0</text>
<text x="117.72" y="453.2" font-size="42">2</text>
<text x="116.06" y="245.5" font-size="42">4</text>
<text x="116.65" y="37.8" font-size="42">6</text>
<text x="147.65" y="692.1" font-size="42" text-anchor="middle">0</text>
<text x="196.1" y="692.1" font-size="42" text-anchor="middle">1</text>
<text x="244.55" y="692.1" font-size="42" text-anchor="middle">2</text>
<text x="293" y="692.1" font-size="42" text-anchor="middle">3</text>
<text x="341.45" y="692.1" font-size="42" text-anchor="middle">4</text>
<text x="389.9" y="692.1" font-size="42" text-anchor="middle">5</text>
<text x="438.35" y="692.1" font-size="42" text-anchor="middle">6</text>
<text x="486.8" y="692.1" font-size="42" text-anchor="middle">7</text>
<text x="535.25" y="692.1" font-size="42" text-anchor="middle">8</text>
<text x="583.7" y="692.1" font-size="42" text-anchor="middle">9</text>
<text x="632.15" y="692.1" font-size="42" text-anchor="middle">10</text>
<text x="680.6" y="692.1" font-size="42" text-anchor="middle">11</text>
<text x="729.05" y="692.1" font-size="42" text-anchor="middle">12</text>
<text x="777.5" y="692.1" font-size="42" text-anchor="middle">13</text>
<text x="825.95" y="692.1" font-size="42" text-anchor="middle">14</text>
<text x="874.4" y="692.1" font-size="42" text-anchor="middle">15</text>
<text x="922.85" y="692.1" font-size="42" text-anchor="middle">16</text>
<text x="406.4" y="753" font-size="41">Axial strain</text>
<text transform="translate(609.55,753) scale(1.107,1.000)" font-size="41">ε</text>
<text transform="translate(627.09,764) scale(1.184,1.000)" font-size="28.7" font-style="italic">a</text>
<line x1="664.4" y1="755.3" x2="681.1" y2="721.6" stroke="#000" stroke-width="2.2"/>
<text transform="translate(683.28,753) scale(1.014,1.000)" font-size="41">%</text>
<g transform="translate(52.7,605.8) rotate(-90)"><text x="-1.18" y="0" font-size="41">Deviatoric stress</text>
<text transform="translate(276.63,0) scale(1.020,1.000)" font-size="41" font-style="italic">(</text>
<g transform="skewX(-12)"><path d="M291.72,-8.85 a9.3,9.85 0 1,0 18.6,0 a9.3,9.85 0 1,0 -18.6,0 Z M294.42,-8.85 a6.6,8.35 0 1,0 13.2,0 a6.6,8.35 0 1,0 -13.2,0 Z" fill="#000" fill-rule="evenodd"/><rect x="301.02" y="-18.7" width="13.97" height="2.5" fill="#000"/></g>
<text transform="translate(315.88,11.5) scale(0.859,1.000)" font-size="30" font-style="italic">1</text>
<rect x="333.4" y="-11.2" width="20.4" height="2.6" fill="#000"/>
<g transform="skewX(-12)"><path d="M353.62,-8.85 a9.3,9.85 0 1,0 18.6,0 a9.3,9.85 0 1,0 -18.6,0 Z M356.32,-8.85 a6.6,8.35 0 1,0 13.2,0 a6.6,8.35 0 1,0 -13.2,0 Z" fill="#000" fill-rule="evenodd"/><rect x="362.92" y="-18.7" width="14.27" height="2.5" fill="#000"/></g>
<text transform="translate(374.16,12.2) scale(1.056,1.000)" font-size="30.5">3</text>
<text transform="translate(390.26,0) scale(1.016,1.000)" font-size="41">)</text>
<text transform="translate(414.9,0) scale(0.939,1.000)" font-size="41">/</text>
<text transform="translate(437.24,0) scale(0.988,1.000)" font-size="41">10</text>
<text transform="translate(476.73,-16.5) scale(1.075,1.000)" font-size="29">2</text>
<text transform="translate(498.31,0) scale(1.009,1.000)" font-size="41">kPa</text></g>
<line x1="178" y1="38.5" x2="218" y2="38.5" stroke="#000000" stroke-width="1.6"/>
<rect x="189.4" y="29.9" width="17.2" height="17.2" fill="#000000"/>
<text transform="translate(228.18,45.5) scale(0.934,1.000)" font-size="20">(</text>
<path d="M236.1,38.95 a7.85,6.9 0 1,0 15.7,0 a7.85,6.9 0 1,0 -15.7,0 Z M238.95,38.95 a5,5.3 0 1,0 10,0 a5,5.3 0 1,0 -10,0 Z" fill="#000" fill-rule="evenodd"/>
<rect x="242" y="31.2" width="11.8" height="2.4" fill="#000"/>
<text transform="translate(254.27,50.8) scale(0.958,1.000)" font-size="22.5">3</text>
<rect x="266.6" y="37.3" width="8.2" height="2.6" fill="#000"/>
<text transform="translate(274.95,45.4) scale(1.261,1.000)" font-size="29.5" font-style="italic">u</text>
<text transform="translate(292.31,51.1) scale(1.073,1.000)" font-size="21">a</text>
<text transform="translate(303.17,45.6) scale(0.973,1.000)" font-size="20">)</text>
<text transform="translate(326.31,50.9) scale(0.972,1.000)" font-size="23">undisturbed loess</text>
<line x1="483.3" y1="48.7" x2="495.6" y2="20.8" stroke="#000" stroke-width="1.5"/>
<text transform="translate(498.01,45.2) scale(1.121,1.000)" font-size="29">50 kPa</text>
<line x1="178" y1="86.9" x2="218" y2="86.9" stroke="#f24141" stroke-width="1.6"/>
<circle cx="198" cy="86.9" r="10" fill="#f24141"/>
<text transform="translate(228.18,93.9) scale(0.934,1.000)" font-size="20">(</text>
<path d="M236.1,87.35 a7.85,6.9 0 1,0 15.7,0 a7.85,6.9 0 1,0 -15.7,0 Z M238.95,87.35 a5,5.3 0 1,0 10,0 a5,5.3 0 1,0 -10,0 Z" fill="#000" fill-rule="evenodd"/>
<rect x="242" y="79.6" width="11.8" height="2.4" fill="#000"/>
<text transform="translate(254.27,99.2) scale(0.958,1.000)" font-size="22.5">3</text>
<rect x="266.6" y="85.7" width="8.2" height="2.6" fill="#000"/>
<text transform="translate(274.95,93.8) scale(1.261,1.000)" font-size="29.5" font-style="italic">u</text>
<text transform="translate(292.31,99.5) scale(1.073,1.000)" font-size="21">a</text>
<text transform="translate(303.17,94) scale(0.973,1.000)" font-size="20">)</text>
<text transform="translate(326.31,99.3) scale(0.972,1.000)" font-size="23">undisturbed loess</text>
<line x1="483.3" y1="97.1" x2="495.6" y2="69.2" stroke="#000" stroke-width="1.5"/>
<text transform="translate(497.01,93.6) scale(1.132,1.000)" font-size="29">100 kPa</text>
<line x1="178" y1="135.3" x2="218" y2="135.3" stroke="#00f000" stroke-width="1.6"/>
<polygon points="198,121.57 210,142.17 186,142.17" fill="#00f000"/>
<text transform="translate(228.18,142.3) scale(0.934,1.000)" font-size="20">(</text>
<path d="M236.1,135.75 a7.85,6.9 0 1,0 15.7,0 a7.85,6.9 0 1,0 -15.7,0 Z M238.95,135.75 a5,5.3 0 1,0 10,0 a5,5.3 0 1,0 -10,0 Z" fill="#000" fill-rule="evenodd"/>
<rect x="242" y="128" width="11.8" height="2.4" fill="#000"/>
<text transform="translate(254.27,147.6) scale(0.958,1.000)" font-size="22.5">3</text>
<rect x="266.6" y="134.1" width="8.2" height="2.6" fill="#000"/>
<text transform="translate(274.95,142.2) scale(1.261,1.000)" font-size="29.5" font-style="italic">u</text>
<text transform="translate(292.31,147.9) scale(1.073,1.000)" font-size="21">a</text>
<text transform="translate(303.17,142.4) scale(0.973,1.000)" font-size="20">)</text>
<text transform="translate(326.31,147.7) scale(0.972,1.000)" font-size="23">undisturbed loess</text>
<line x1="483.3" y1="145.5" x2="495.6" y2="117.6" stroke="#000" stroke-width="1.5"/>
<text transform="translate(498.48,142) scale(1.116,1.000)" font-size="29">200 kPa</text>
<line x1="178" y1="183.7" x2="218" y2="183.7" stroke="#0000ff" stroke-width="1.6"/>
<polygon points="186.2,176.7 209.8,176.7 205.87,183.7 190.13,183.7" fill="#0000ff"/><polygon points="190.73,183.7 205.27,183.7 198,196.1" fill="#fff"/><polygon points="187.4,177.5 208.6,177.5 198,196.1" fill="none" stroke="#0000ff" stroke-width="2"/>
<text transform="translate(228.18,190.7) scale(0.934,1.000)" font-size="20">(</text>
<path d="M236.1,184.15 a7.85,6.9 0 1,0 15.7,0 a7.85,6.9 0 1,0 -15.7,0 Z M238.95,184.15 a5,5.3 0 1,0 10,0 a5,5.3 0 1,0 -10,0 Z" fill="#000" fill-rule="evenodd"/>
<rect x="242" y="176.4" width="11.8" height="2.4" fill="#000"/>
<text transform="translate(254.27,196) scale(0.958,1.000)" font-size="22.5">3</text>
<rect x="266.6" y="182.5" width="8.2" height="2.6" fill="#000"/>
<text transform="translate(274.95,190.6) scale(1.261,1.000)" font-size="29.5" font-style="italic">u</text>
<text transform="translate(292.31,196.3) scale(1.073,1.000)" font-size="21">a</text>
<text transform="translate(303.17,190.8) scale(0.973,1.000)" font-size="20">)</text>
<text transform="translate(319.86,196.4) scale(0.966,1.000)" font-size="23">remolded loess</text>
<line x1="454.7" y1="192.2" x2="466.8" y2="165.8" stroke="#000" stroke-width="1.5"/>
<text transform="translate(468.88,190.1) scale(1.137,1.000)" font-size="29">50 kPa</text>
<line x1="178" y1="232.1" x2="218" y2="232.1" stroke="#00f8f8" stroke-width="1.6"/>
<polygon points="185.6,232.1 198,219.7 210.4,232.1" fill="#00f8f8"/><polygon points="186.8,232.1 209.2,232.1 198,243.3" fill="#fff"/><polygon points="186.8,232.1 198,220.9 209.2,232.1 198,243.3" fill="none" stroke="#00f8f8" stroke-width="2"/>
<text transform="translate(228.18,239.1) scale(0.934,1.000)" font-size="20">(</text>
<path d="M236.1,232.55 a7.85,6.9 0 1,0 15.7,0 a7.85,6.9 0 1,0 -15.7,0 Z M238.95,232.55 a5,5.3 0 1,0 10,0 a5,5.3 0 1,0 -10,0 Z" fill="#000" fill-rule="evenodd"/>
<rect x="242" y="224.8" width="11.8" height="2.4" fill="#000"/>
<text transform="translate(254.27,244.4) scale(0.958,1.000)" font-size="22.5">3</text>
<rect x="266.6" y="230.9" width="8.2" height="2.6" fill="#000"/>
<text transform="translate(274.95,239) scale(1.261,1.000)" font-size="29.5" font-style="italic">u</text>
<text transform="translate(292.31,244.7) scale(1.073,1.000)" font-size="21">a</text>
<text transform="translate(303.17,239.2) scale(0.973,1.000)" font-size="20">)</text>
<text transform="translate(319.86,244.8) scale(0.966,1.000)" font-size="23">remolded loess</text>
<line x1="454.7" y1="240.6" x2="466.8" y2="214.2" stroke="#000" stroke-width="1.5"/>
<text transform="translate(467.87,238.5) scale(1.148,1.000)" font-size="29">100 kPa</text>
<line x1="178" y1="280.5" x2="218" y2="280.5" stroke="#ff00ff" stroke-width="1.6"/>
<polygon points="185.07,280.5 204.47,268.3 204.47,280.5" fill="#ff00ff"/><polygon points="186.67,280.5 203.47,280.5 203.47,291.4" fill="#fff"/><polygon points="186.67,280.5 203.47,269.6 203.47,291.4" fill="none" stroke="#ff00ff" stroke-width="2"/>
<text transform="translate(228.18,287.5) scale(0.934,1.000)" font-size="20">(</text>
<path d="M236.1,280.95 a7.85,6.9 0 1,0 15.7,0 a7.85,6.9 0 1,0 -15.7,0 Z M238.95,280.95 a5,5.3 0 1,0 10,0 a5,5.3 0 1,0 -10,0 Z" fill="#000" fill-rule="evenodd"/>
<rect x="242" y="273.2" width="11.8" height="2.4" fill="#000"/>
<text transform="translate(254.27,292.8) scale(0.958,1.000)" font-size="22.5">3</text>
<rect x="266.6" y="279.3" width="8.2" height="2.6" fill="#000"/>
<text transform="translate(274.95,287.4) scale(1.261,1.000)" font-size="29.5" font-style="italic">u</text>
<text transform="translate(292.31,293.1) scale(1.073,1.000)" font-size="21">a</text>
<text transform="translate(303.17,287.6) scale(0.973,1.000)" font-size="20">)</text>
<text transform="translate(319.86,293.2) scale(0.966,1.000)" font-size="23">remolded loess</text>
<line x1="454.7" y1="289" x2="466.8" y2="262.6" stroke="#000" stroke-width="1.5"/>
<text transform="translate(469.36,286.9) scale(1.132,1.000)" font-size="29">200 kPa</text>
<text transform="translate(430.75,829.4) scale(1.050,1.000)" font-size="40" font-weight="bold">(a)</text>
<text transform="translate(487.53,827.8) scale(0.980,1.000)" font-size="34">s</text>
<rect x="504.6" y="811.45" width="23.8" height="1.5" fill="#000"/>
<rect x="504.6" y="817.85" width="23.8" height="1.5" fill="#000"/>
<text transform="translate(533.02,827.8) scale(0.950,1.000)" font-size="34">50 kPa</text>
<rect x="3" y="843" width="940" height="784" fill="#fafafa"/>
<clipPath id="clipb"><rect x="138.3" y="867.6" width="783.8" height="631.5"/></clipPath>
<g clip-path="url(#clipb)">
<polyline points="139,1494 141,1482 144,1466 148,1452 153,1441 158,1429 163,1418 171,1407.6 190.6,1397 205.8,1371 221.5,1346 237,1331 256,1317.3 287.4,1320.5 317.6,1314.9 348.1,1314.4 380.2,1319.1 411.2,1323.9 442.5,1324.8 473.1,1321.2 503.3,1313.2 533.4,1307 564.4,1302.8 594.6,1301.3 625.7,1298.6 656.3,1299.8 688,1297.7 718.1,1295.1 749.1,1293 779.1,1289.2 810.4,1287.1 841.6,1285.4 872.7,1287.1" fill="none" stroke="#000000" stroke-width="1.3"/>
<rect x="130.4" y="1485.4" width="17.2" height="17.2" fill="#000000"/>
<rect x="132.4" y="1473.4" width="17.2" height="17.2" fill="#000000"/>
<rect x="135.4" y="1457.4" width="17.2" height="17.2" fill="#000000"/>
<rect x="139.4" y="1443.4" width="17.2" height="17.2" fill="#000000"/>
<rect x="144.4" y="1432.4" width="17.2" height="17.2" fill="#000000"/>
<rect x="149.4" y="1420.4" width="17.2" height="17.2" fill="#000000"/>
<rect x="154.4" y="1409.4" width="17.2" height="17.2" fill="#000000"/>
<rect x="162.4" y="1399" width="17.2" height="17.2" fill="#000000"/>
<rect x="182" y="1388.4" width="17.2" height="17.2" fill="#000000"/>
<rect x="197.2" y="1362.4" width="17.2" height="17.2" fill="#000000"/>
<rect x="212.9" y="1337.4" width="17.2" height="17.2" fill="#000000"/>
<rect x="228.4" y="1322.4" width="17.2" height="17.2" fill="#000000"/>
<rect x="247.4" y="1308.7" width="17.2" height="17.2" fill="#000000"/>
<rect x="278.8" y="1311.9" width="17.2" height="17.2" fill="#000000"/>
<rect x="309" y="1306.3" width="17.2" height="17.2" fill="#000000"/>
<rect x="339.5" y="1305.8" width="17.2" height="17.2" fill="#000000"/>
<rect x="371.6" y="1310.5" width="17.2" height="17.2" fill="#000000"/>
<rect x="402.6" y="1315.3" width="17.2" height="17.2" fill="#000000"/>
<rect x="433.9" y="1316.2" width="17.2" height="17.2" fill="#000000"/>
<rect x="464.5" y="1312.6" width="17.2" height="17.2" fill="#000000"/>
<rect x="494.7" y="1304.6" width="17.2" height="17.2" fill="#000000"/>
<rect x="524.8" y="1298.4" width="17.2" height="17.2" fill="#000000"/>
<rect x="555.8" y="1294.2" width="17.2" height="17.2" fill="#000000"/>
<rect x="586" y="1292.7" width="17.2" height="17.2" fill="#000000"/>
<rect x="617.1" y="1290" width="17.2" height="17.2" fill="#000000"/>
<rect x="647.7" y="1291.2" width="17.2" height="17.2" fill="#000000"/>
<rect x="679.4" y="1289.1" width="17.2" height="17.2" fill="#000000"/>
<rect x="709.5" y="1286.5" width="17.2" height="17.2" fill="#000000"/>
<rect x="740.5" y="1284.4" width="17.2" height="17.2" fill="#000000"/>
<rect x="770.5" y="1280.6" width="17.2" height="17.2" fill="#000000"/>
<rect x="801.8" y="1278.5" width="17.2" height="17.2" fill="#000000"/>
<rect x="833" y="1276.8" width="17.2" height="17.2" fill="#000000"/>
<rect x="864.1" y="1278.5" width="17.2" height="17.2" fill="#000000"/>
<polyline points="140,1494 143,1485 147,1474 151,1462 155,1450 158.8,1433 162.6,1421.4 172,1411.5 186,1377 202.3,1346.5 218.3,1328.8 235.3,1320 253,1315 283.5,1311.5 314,1304 342.8,1294.4 373.2,1289.4 403.4,1283.1 433.4,1277.8 463.2,1274 493.2,1268.3 523.9,1267.5 554.5,1267.5 584.9,1264.4 614.5,1258 644.7,1249.6 674.9,1245.3 704.8,1241.7 735,1238.1 765.4,1233.9 796,1232.8 826.2,1234.3 856.8,1234.3" fill="none" stroke="#f24141" stroke-width="1.3"/>
<circle cx="140" cy="1494" r="10" fill="#f24141"/>
<circle cx="143" cy="1485" r="10" fill="#f24141"/>
<circle cx="147" cy="1474" r="10" fill="#f24141"/>
<circle cx="151" cy="1462" r="10" fill="#f24141"/>
<circle cx="155" cy="1450" r="10" fill="#f24141"/>
<circle cx="158.8" cy="1433" r="10" fill="#f24141"/>
<circle cx="162.6" cy="1421.4" r="10" fill="#f24141"/>
<circle cx="172" cy="1411.5" r="10" fill="#f24141"/>
<circle cx="186" cy="1377" r="10" fill="#f24141"/>
<circle cx="202.3" cy="1346.5" r="10" fill="#f24141"/>
<circle cx="218.3" cy="1328.8" r="10" fill="#f24141"/>
<circle cx="235.3" cy="1320" r="10" fill="#f24141"/>
<circle cx="253" cy="1315" r="10" fill="#f24141"/>
<circle cx="283.5" cy="1311.5" r="10" fill="#f24141"/>
<circle cx="314" cy="1304" r="10" fill="#f24141"/>
<circle cx="342.8" cy="1294.4" r="10" fill="#f24141"/>
<circle cx="373.2" cy="1289.4" r="10" fill="#f24141"/>
<circle cx="403.4" cy="1283.1" r="10" fill="#f24141"/>
<circle cx="433.4" cy="1277.8" r="10" fill="#f24141"/>
<circle cx="463.2" cy="1274" r="10" fill="#f24141"/>
<circle cx="493.2" cy="1268.3" r="10" fill="#f24141"/>
<circle cx="523.9" cy="1267.5" r="10" fill="#f24141"/>
<circle cx="554.5" cy="1267.5" r="10" fill="#f24141"/>
<circle cx="584.9" cy="1264.4" r="10" fill="#f24141"/>
<circle cx="614.5" cy="1258" r="10" fill="#f24141"/>
<circle cx="644.7" cy="1249.6" r="10" fill="#f24141"/>
<circle cx="674.9" cy="1245.3" r="10" fill="#f24141"/>
<circle cx="704.8" cy="1241.7" r="10" fill="#f24141"/>
<circle cx="735" cy="1238.1" r="10" fill="#f24141"/>
<circle cx="765.4" cy="1233.9" r="10" fill="#f24141"/>
<circle cx="796" cy="1232.8" r="10" fill="#f24141"/>
<circle cx="826.2" cy="1234.3" r="10" fill="#f24141"/>
<circle cx="856.8" cy="1234.3" r="10" fill="#f24141"/>
<polyline points="139,1496 142,1488 146,1478 150,1466 155,1453 160,1440 165,1427 170,1418 175.4,1411 187.8,1375 202,1337.7 218.1,1312.4 234.1,1290.3 251,1272 278.7,1249 307.4,1233.8 338,1218.7 366.9,1203.3 396.5,1189.1 426,1177.1 455.2,1164.4 484.7,1151.8 514,1140 544.4,1130.8 575,1121.2 604.5,1112.8 634.1,1102.2 663.7,1092.7 693.4,1082.6 723.3,1074.6 753.9,1066.1 783.5,1057.7 814.1,1049.2 843.7,1038.6" fill="none" stroke="#00f000" stroke-width="1.3"/>
<polygon points="139,1482.27 151,1502.87 127,1502.87" fill="#00f000"/>
<polygon points="142,1474.27 154,1494.87 130,1494.87" fill="#00f000"/>
<polygon points="146,1464.27 158,1484.87 134,1484.87" fill="#00f000"/>
<polygon points="150,1452.27 162,1472.87 138,1472.87" fill="#00f000"/>
<polygon points="155,1439.27 167,1459.87 143,1459.87" fill="#00f000"/>
<polygon points="160,1426.27 172,1446.87 148,1446.87" fill="#00f000"/>
<polygon points="165,1413.27 177,1433.87 153,1433.87" fill="#00f000"/>
<polygon points="170,1404.27 182,1424.87 158,1424.87" fill="#00f000"/>
<polygon points="175.4,1397.27 187.4,1417.87 163.4,1417.87" fill="#00f000"/>
<polygon points="187.8,1361.27 199.8,1381.87 175.8,1381.87" fill="#00f000"/>
<polygon points="202,1323.97 214,1344.57 190,1344.57" fill="#00f000"/>
<polygon points="218.1,1298.67 230.1,1319.27 206.1,1319.27" fill="#00f000"/>
<polygon points="234.1,1276.57 246.1,1297.17 222.1,1297.17" fill="#00f000"/>
<polygon points="251,1258.27 263,1278.87 239,1278.87" fill="#00f000"/>
<polygon points="278.7,1235.27 290.7,1255.87 266.7,1255.87" fill="#00f000"/>
<polygon points="307.4,1220.07 319.4,1240.67 295.4,1240.67" fill="#00f000"/>
<polygon points="338,1204.97 350,1225.57 326,1225.57" fill="#00f000"/>
<polygon points="366.9,1189.57 378.9,1210.17 354.9,1210.17" fill="#00f000"/>
<polygon points="396.5,1175.37 408.5,1195.97 384.5,1195.97" fill="#00f000"/>
<polygon points="426,1163.37 438,1183.97 414,1183.97" fill="#00f000"/>
<polygon points="455.2,1150.67 467.2,1171.27 443.2,1171.27" fill="#00f000"/>
<polygon points="484.7,1138.07 496.7,1158.67 472.7,1158.67" fill="#00f000"/>
<polygon points="514,1126.27 526,1146.87 502,1146.87" fill="#00f000"/>
<polygon points="544.4,1117.07 556.4,1137.67 532.4,1137.67" fill="#00f000"/>
<polygon points="575,1107.47 587,1128.07 563,1128.07" fill="#00f000"/>
<polygon points="604.5,1099.07 616.5,1119.67 592.5,1119.67" fill="#00f000"/>
<polygon points="634.1,1088.47 646.1,1109.07 622.1,1109.07" fill="#00f000"/>
<polygon points="663.7,1078.97 675.7,1099.57 651.7,1099.57" fill="#00f000"/>
<polygon points="693.4,1068.87 705.4,1089.47 681.4,1089.47" fill="#00f000"/>
<polygon points="723.3,1060.87 735.3,1081.47 711.3,1081.47" fill="#00f000"/>
<polygon points="753.9,1052.37 765.9,1072.97 741.9,1072.97" fill="#00f000"/>
<polygon points="783.5,1043.97 795.5,1064.57 771.5,1064.57" fill="#00f000"/>
<polygon points="814.1,1035.47 826.1,1056.07 802.1,1056.07" fill="#00f000"/>
<polygon points="843.7,1024.87 855.7,1045.47 831.7,1045.47" fill="#00f000"/>
<polyline points="140.5,1480 142.6,1462 150.7,1450 163.5,1432 175.3,1425 191.1,1408 208,1395.6 226.2,1385 244,1378.3 262.3,1375 291.6,1368.2 324,1366.3 353.2,1362.6 383.4,1359.8 414,1355.6 444.6,1355 475.2,1352.4 505.9,1349.6 537,1347.8 567.2,1345.7 598.2,1344.2 628.8,1344.8 659.5,1342.1 691,1340.2 721.3,1339 751.9,1338.8 782.3,1337.3 812.9,1336.3 843.5,1334.6 874.4,1335.9" fill="none" stroke="#0000ff" stroke-width="1.3"/>
<polygon points="128.7,1473 152.3,1473 148.37,1480 132.63,1480" fill="#0000ff"/><polygon points="133.23,1480 147.77,1480 140.5,1492.4" fill="#fff"/><polygon points="129.9,1473.8 151.1,1473.8 140.5,1492.4" fill="none" stroke="#0000ff" stroke-width="2"/>
<polygon points="130.8,1455 154.4,1455 150.47,1462 134.73,1462" fill="#0000ff"/><polygon points="135.33,1462 149.87,1462 142.6,1474.4" fill="#fff"/><polygon points="132,1455.8 153.2,1455.8 142.6,1474.4" fill="none" stroke="#0000ff" stroke-width="2"/>
<polygon points="138.9,1443 162.5,1443 158.57,1450 142.83,1450" fill="#0000ff"/><polygon points="143.43,1450 157.97,1450 150.7,1462.4" fill="#fff"/><polygon points="140.1,1443.8 161.3,1443.8 150.7,1462.4" fill="none" stroke="#0000ff" stroke-width="2"/>
<polygon points="151.7,1425 175.3,1425 171.37,1432 155.63,1432" fill="#0000ff"/><polygon points="156.23,1432 170.77,1432 163.5,1444.4" fill="#fff"/><polygon points="152.9,1425.8 174.1,1425.8 163.5,1444.4" fill="none" stroke="#0000ff" stroke-width="2"/>
<polygon points="163.5,1418 187.1,1418 183.17,1425 167.43,1425" fill="#0000ff"/><polygon points="168.03,1425 182.57,1425 175.3,1437.4" fill="#fff"/><polygon points="164.7,1418.8 185.9,1418.8 175.3,1437.4" fill="none" stroke="#0000ff" stroke-width="2"/>
<polygon points="179.3,1401 202.9,1401 198.97,1408 183.23,1408" fill="#0000ff"/><polygon points="183.83,1408 198.37,1408 191.1,1420.4" fill="#fff"/><polygon points="180.5,1401.8 201.7,1401.8 191.1,1420.4" fill="none" stroke="#0000ff" stroke-width="2"/>
<polygon points="196.2,1388.6 219.8,1388.6 215.87,1395.6 200.13,1395.6" fill="#0000ff"/><polygon points="200.73,1395.6 215.27,1395.6 208,1408" fill="#fff"/><polygon points="197.4,1389.4 218.6,1389.4 208,1408" fill="none" stroke="#0000ff" stroke-width="2"/>
<polygon points="214.4,1378 238,1378 234.07,1385 218.33,1385" fill="#0000ff"/><polygon points="218.93,1385 233.47,1385 226.2,1397.4" fill="#fff"/><polygon points="215.6,1378.8 236.8,1378.8 226.2,1397.4" fill="none" stroke="#0000ff" stroke-width="2"/>
<polygon points="232.2,1371.3 255.8,1371.3 251.87,1378.3 236.13,1378.3" fill="#0000ff"/><polygon points="236.73,1378.3 251.27,1378.3 244,1390.7" fill="#fff"/><polygon points="233.4,1372.1 254.6,1372.1 244,1390.7" fill="none" stroke="#0000ff" stroke-width="2"/>
<polygon points="250.5,1368 274.1,1368 270.17,1375 254.43,1375" fill="#0000ff"/><polygon points="255.03,1375 269.57,1375 262.3,1387.4" fill="#fff"/><polygon points="251.7,1368.8 272.9,1368.8 262.3,1387.4" fill="none" stroke="#0000ff" stroke-width="2"/>
<polygon points="279.8,1361.2 303.4,1361.2 299.47,1368.2 283.73,1368.2" fill="#0000ff"/><polygon points="284.33,1368.2 298.87,1368.2 291.6,1380.6" fill="#fff"/><polygon points="281,1362 302.2,1362 291.6,1380.6" fill="none" stroke="#0000ff" stroke-width="2"/>
<polygon points="312.2,1359.3 335.8,1359.3 331.87,1366.3 316.13,1366.3" fill="#0000ff"/><polygon points="316.73,1366.3 331.27,1366.3 324,1378.7" fill="#fff"/><polygon points="313.4,1360.1 334.6,1360.1 324,1378.7" fill="none" stroke="#0000ff" stroke-width="2"/>
<polygon points="341.4,1355.6 365,1355.6 361.07,1362.6 345.33,1362.6" fill="#0000ff"/><polygon points="345.93,1362.6 360.47,1362.6 353.2,1375" fill="#fff"/><polygon points="342.6,1356.4 363.8,1356.4 353.2,1375" fill="none" stroke="#0000ff" stroke-width="2"/>
<polygon points="371.6,1352.8 395.2,1352.8 391.27,1359.8 375.53,1359.8" fill="#0000ff"/><polygon points="376.13,1359.8 390.67,1359.8 383.4,1372.2" fill="#fff"/><polygon points="372.8,1353.6 394,1353.6 383.4,1372.2" fill="none" stroke="#0000ff" stroke-width="2"/>
<polygon points="402.2,1348.6 425.8,1348.6 421.87,1355.6 406.13,1355.6" fill="#0000ff"/><polygon points="406.73,1355.6 421.27,1355.6 414,1368" fill="#fff"/><polygon points="403.4,1349.4 424.6,1349.4 414,1368" fill="none" stroke="#0000ff" stroke-width="2"/>
<polygon points="432.8,1348 456.4,1348 452.47,1355 436.73,1355" fill="#0000ff"/><polygon points="437.33,1355 451.87,1355 444.6,1367.4" fill="#fff"/><polygon points="434,1348.8 455.2,1348.8 444.6,1367.4" fill="none" stroke="#0000ff" stroke-width="2"/>
<polygon points="463.4,1345.4 487,1345.4 483.07,1352.4 467.33,1352.4" fill="#0000ff"/><polygon points="467.93,1352.4 482.47,1352.4 475.2,1364.8" fill="#fff"/><polygon points="464.6,1346.2 485.8,1346.2 475.2,1364.8" fill="none" stroke="#0000ff" stroke-width="2"/>
<polygon points="494.1,1342.6 517.7,1342.6 513.77,1349.6 498.03,1349.6" fill="#0000ff"/><polygon points="498.63,1349.6 513.17,1349.6 505.9,1362" fill="#fff"/><polygon points="495.3,1343.4 516.5,1343.4 505.9,1362" fill="none" stroke="#0000ff" stroke-width="2"/>
<polygon points="525.2,1340.8 548.8,1340.8 544.87,1347.8 529.13,1347.8" fill="#0000ff"/><polygon points="529.73,1347.8 544.27,1347.8 537,1360.2" fill="#fff"/><polygon points="526.4,1341.6 547.6,1341.6 537,1360.2" fill="none" stroke="#0000ff" stroke-width="2"/>
<polygon points="555.4,1338.7 579,1338.7 575.07,1345.7 559.33,1345.7" fill="#0000ff"/><polygon points="559.93,1345.7 574.47,1345.7 567.2,1358.1" fill="#fff"/><polygon points="556.6,1339.5 577.8,1339.5 567.2,1358.1" fill="none" stroke="#0000ff" stroke-width="2"/>
<polygon points="586.4,1337.2 610,1337.2 606.07,1344.2 590.33,1344.2" fill="#0000ff"/><polygon points="590.93,1344.2 605.47,1344.2 598.2,1356.6" fill="#fff"/><polygon points="587.6,1338 608.8,1338 598.2,1356.6" fill="none" stroke="#0000ff" stroke-width="2"/>
<polygon points="617,1337.8 640.6,1337.8 636.67,1344.8 620.93,1344.8" fill="#0000ff"/><polygon points="621.53,1344.8 636.07,1344.8 628.8,1357.2" fill="#fff"/><polygon points="618.2,1338.6 639.4,1338.6 628.8,1357.2" fill="none" stroke="#0000ff" stroke-width="2"/>
<polygon points="647.7,1335.1 671.3,1335.1 667.37,1342.1 651.63,1342.1" fill="#0000ff"/><polygon points="652.23,1342.1 666.77,1342.1 659.5,1354.5" fill="#fff"/><polygon points="648.9,1335.9 670.1,1335.9 659.5,1354.5" fill="none" stroke="#0000ff" stroke-width="2"/>
<polygon points="679.2,1333.2 702.8,1333.2 698.87,1340.2 683.13,1340.2" fill="#0000ff"/><polygon points="683.73,1340.2 698.27,1340.2 691,1352.6" fill="#fff"/><polygon points="680.4,1334 701.6,1334 691,1352.6" fill="none" stroke="#0000ff" stroke-width="2"/>
<polygon points="709.5,1332 733.1,1332 729.17,1339 713.43,1339" fill="#0000ff"/><polygon points="714.03,1339 728.57,1339 721.3,1351.4" fill="#fff"/><polygon points="710.7,1332.8 731.9,1332.8 721.3,1351.4" fill="none" stroke="#0000ff" stroke-width="2"/>
<polygon points="740.1,1331.8 763.7,1331.8 759.77,1338.8 744.03,1338.8" fill="#0000ff"/><polygon points="744.63,1338.8 759.17,1338.8 751.9,1351.2" fill="#fff"/><polygon points="741.3,1332.6 762.5,1332.6 751.9,1351.2" fill="none" stroke="#0000ff" stroke-width="2"/>
<polygon points="770.5,1330.3 794.1,1330.3 790.17,1337.3 774.43,1337.3" fill="#0000ff"/><polygon points="775.03,1337.3 789.57,1337.3 782.3,1349.7" fill="#fff"/><polygon points="771.7,1331.1 792.9,1331.1 782.3,1349.7" fill="none" stroke="#0000ff" stroke-width="2"/>
<polygon points="801.1,1329.3 824.7,1329.3 820.77,1336.3 805.03,1336.3" fill="#0000ff"/><polygon points="805.63,1336.3 820.17,1336.3 812.9,1348.7" fill="#fff"/><polygon points="802.3,1330.1 823.5,1330.1 812.9,1348.7" fill="none" stroke="#0000ff" stroke-width="2"/>
<polygon points="831.7,1327.6 855.3,1327.6 851.37,1334.6 835.63,1334.6" fill="#0000ff"/><polygon points="836.23,1334.6 850.77,1334.6 843.5,1347" fill="#fff"/><polygon points="832.9,1328.4 854.1,1328.4 843.5,1347" fill="none" stroke="#0000ff" stroke-width="2"/>
<polygon points="862.6,1328.9 886.2,1328.9 882.27,1335.9 866.53,1335.9" fill="#0000ff"/><polygon points="867.13,1335.9 881.67,1335.9 874.4,1348.3" fill="#fff"/><polygon points="863.8,1329.7 885,1329.7 874.4,1348.3" fill="none" stroke="#0000ff" stroke-width="2"/>
<polyline points="140,1498 143.5,1495 147,1492 151,1489 156,1485 162.6,1481.3 168.5,1476 174.9,1469.8 180.6,1462.2 183,1459.8 187.5,1450.3 193.5,1417 208.5,1395 226.2,1386 244.3,1368 262,1357.9 291.6,1346 321.6,1337.3 351.7,1330.7 381.2,1317 410.8,1303 440.8,1297 471.2,1289.5 501.8,1284.8 532.7,1282.3 563.4,1280.8 594,1276 624.6,1271.7 655.2,1269.6 685.9,1264.4 717.5,1263.9 748.1,1265.3 777.6,1252.2 808.7,1251.2 838.9,1248 869.9,1248.4" fill="none" stroke="#00f8f8" stroke-width="1.3"/>
<polygon points="127.6,1498 140,1485.6 152.4,1498" fill="#00f8f8"/><polygon points="128.8,1498 151.2,1498 140,1509.2" fill="#fff"/><polygon points="128.8,1498 140,1486.8 151.2,1498 140,1509.2" fill="none" stroke="#00f8f8" stroke-width="2"/>
<polygon points="131.1,1495 143.5,1482.6 155.9,1495" fill="#00f8f8"/><polygon points="132.3,1495 154.7,1495 143.5,1506.2" fill="#fff"/><polygon points="132.3,1495 143.5,1483.8 154.7,1495 143.5,1506.2" fill="none" stroke="#00f8f8" stroke-width="2"/>
<polygon points="134.6,1492 147,1479.6 159.4,1492" fill="#00f8f8"/><polygon points="135.8,1492 158.2,1492 147,1503.2" fill="#fff"/><polygon points="135.8,1492 147,1480.8 158.2,1492 147,1503.2" fill="none" stroke="#00f8f8" stroke-width="2"/>
<polygon points="138.6,1489 151,1476.6 163.4,1489" fill="#00f8f8"/><polygon points="139.8,1489 162.2,1489 151,1500.2" fill="#fff"/><polygon points="139.8,1489 151,1477.8 162.2,1489 151,1500.2" fill="none" stroke="#00f8f8" stroke-width="2"/>
<polygon points="143.6,1485 156,1472.6 168.4,1485" fill="#00f8f8"/><polygon points="144.8,1485 167.2,1485 156,1496.2" fill="#fff"/><polygon points="144.8,1485 156,1473.8 167.2,1485 156,1496.2" fill="none" stroke="#00f8f8" stroke-width="2"/>
<polygon points="150.2,1481.3 162.6,1468.9 175,1481.3" fill="#00f8f8"/><polygon points="151.4,1481.3 173.8,1481.3 162.6,1492.5" fill="#fff"/><polygon points="151.4,1481.3 162.6,1470.1 173.8,1481.3 162.6,1492.5" fill="none" stroke="#00f8f8" stroke-width="2"/>
<polygon points="156.1,1476 168.5,1463.6 180.9,1476" fill="#00f8f8"/><polygon points="157.3,1476 179.7,1476 168.5,1487.2" fill="#fff"/><polygon points="157.3,1476 168.5,1464.8 179.7,1476 168.5,1487.2" fill="none" stroke="#00f8f8" stroke-width="2"/>
<polygon points="162.5,1469.8 174.9,1457.4 187.3,1469.8" fill="#00f8f8"/><polygon points="163.7,1469.8 186.1,1469.8 174.9,1481" fill="#fff"/><polygon points="163.7,1469.8 174.9,1458.6 186.1,1469.8 174.9,1481" fill="none" stroke="#00f8f8" stroke-width="2"/>
<polygon points="168.2,1462.2 180.6,1449.8 193,1462.2" fill="#00f8f8"/><polygon points="169.4,1462.2 191.8,1462.2 180.6,1473.4" fill="#fff"/><polygon points="169.4,1462.2 180.6,1451 191.8,1462.2 180.6,1473.4" fill="none" stroke="#00f8f8" stroke-width="2"/>
<polygon points="170.6,1459.8 183,1447.4 195.4,1459.8" fill="#00f8f8"/><polygon points="171.8,1459.8 194.2,1459.8 183,1471" fill="#fff"/><polygon points="171.8,1459.8 183,1448.6 194.2,1459.8 183,1471" fill="none" stroke="#00f8f8" stroke-width="2"/>
<polygon points="175.1,1450.3 187.5,1437.9 199.9,1450.3" fill="#00f8f8"/><polygon points="176.3,1450.3 198.7,1450.3 187.5,1461.5" fill="#fff"/><polygon points="176.3,1450.3 187.5,1439.1 198.7,1450.3 187.5,1461.5" fill="none" stroke="#00f8f8" stroke-width="2"/>
<polygon points="181.1,1417 193.5,1404.6 205.9,1417" fill="#00f8f8"/><polygon points="182.3,1417 204.7,1417 193.5,1428.2" fill="#fff"/><polygon points="182.3,1417 193.5,1405.8 204.7,1417 193.5,1428.2" fill="none" stroke="#00f8f8" stroke-width="2"/>
<polygon points="196.1,1395 208.5,1382.6 220.9,1395" fill="#00f8f8"/><polygon points="197.3,1395 219.7,1395 208.5,1406.2" fill="#fff"/><polygon points="197.3,1395 208.5,1383.8 219.7,1395 208.5,1406.2" fill="none" stroke="#00f8f8" stroke-width="2"/>
<polygon points="213.8,1386 226.2,1373.6 238.6,1386" fill="#00f8f8"/><polygon points="215,1386 237.4,1386 226.2,1397.2" fill="#fff"/><polygon points="215,1386 226.2,1374.8 237.4,1386 226.2,1397.2" fill="none" stroke="#00f8f8" stroke-width="2"/>
<polygon points="231.9,1368 244.3,1355.6 256.7,1368" fill="#00f8f8"/><polygon points="233.1,1368 255.5,1368 244.3,1379.2" fill="#fff"/><polygon points="233.1,1368 244.3,1356.8 255.5,1368 244.3,1379.2" fill="none" stroke="#00f8f8" stroke-width="2"/>
<polygon points="249.6,1357.9 262,1345.5 274.4,1357.9" fill="#00f8f8"/><polygon points="250.8,1357.9 273.2,1357.9 262,1369.1" fill="#fff"/><polygon points="250.8,1357.9 262,1346.7 273.2,1357.9 262,1369.1" fill="none" stroke="#00f8f8" stroke-width="2"/>
<polygon points="279.2,1346 291.6,1333.6 304,1346" fill="#00f8f8"/><polygon points="280.4,1346 302.8,1346 291.6,1357.2" fill="#fff"/><polygon points="280.4,1346 291.6,1334.8 302.8,1346 291.6,1357.2" fill="none" stroke="#00f8f8" stroke-width="2"/>
<polygon points="309.2,1337.3 321.6,1324.9 334,1337.3" fill="#00f8f8"/><polygon points="310.4,1337.3 332.8,1337.3 321.6,1348.5" fill="#fff"/><polygon points="310.4,1337.3 321.6,1326.1 332.8,1337.3 321.6,1348.5" fill="none" stroke="#00f8f8" stroke-width="2"/>
<polygon points="339.3,1330.7 351.7,1318.3 364.1,1330.7" fill="#00f8f8"/><polygon points="340.5,1330.7 362.9,1330.7 351.7,1341.9" fill="#fff"/><polygon points="340.5,1330.7 351.7,1319.5 362.9,1330.7 351.7,1341.9" fill="none" stroke="#00f8f8" stroke-width="2"/>
<polygon points="368.8,1317 381.2,1304.6 393.6,1317" fill="#00f8f8"/><polygon points="370,1317 392.4,1317 381.2,1328.2" fill="#fff"/><polygon points="370,1317 381.2,1305.8 392.4,1317 381.2,1328.2" fill="none" stroke="#00f8f8" stroke-width="2"/>
<polygon points="398.4,1303 410.8,1290.6 423.2,1303" fill="#00f8f8"/><polygon points="399.6,1303 422,1303 410.8,1314.2" fill="#fff"/><polygon points="399.6,1303 410.8,1291.8 422,1303 410.8,1314.2" fill="none" stroke="#00f8f8" stroke-width="2"/>
<polygon points="428.4,1297 440.8,1284.6 453.2,1297" fill="#00f8f8"/><polygon points="429.6,1297 452,1297 440.8,1308.2" fill="#fff"/><polygon points="429.6,1297 440.8,1285.8 452,1297 440.8,1308.2" fill="none" stroke="#00f8f8" stroke-width="2"/>
<polygon points="458.8,1289.5 471.2,1277.1 483.6,1289.5" fill="#00f8f8"/><polygon points="460,1289.5 482.4,1289.5 471.2,1300.7" fill="#fff"/><polygon points="460,1289.5 471.2,1278.3 482.4,1289.5 471.2,1300.7" fill="none" stroke="#00f8f8" stroke-width="2"/>
<polygon points="489.4,1284.8 501.8,1272.4 514.2,1284.8" fill="#00f8f8"/><polygon points="490.6,1284.8 513,1284.8 501.8,1296" fill="#fff"/><polygon points="490.6,1284.8 501.8,1273.6 513,1284.8 501.8,1296" fill="none" stroke="#00f8f8" stroke-width="2"/>
<polygon points="520.3,1282.3 532.7,1269.9 545.1,1282.3" fill="#00f8f8"/><polygon points="521.5,1282.3 543.9,1282.3 532.7,1293.5" fill="#fff"/><polygon points="521.5,1282.3 532.7,1271.1 543.9,1282.3 532.7,1293.5" fill="none" stroke="#00f8f8" stroke-width="2"/>
<polygon points="551,1280.8 563.4,1268.4 575.8,1280.8" fill="#00f8f8"/><polygon points="552.2,1280.8 574.6,1280.8 563.4,1292" fill="#fff"/><polygon points="552.2,1280.8 563.4,1269.6 574.6,1280.8 563.4,1292" fill="none" stroke="#00f8f8" stroke-width="2"/>
<polygon points="581.6,1276 594,1263.6 606.4,1276" fill="#00f8f8"/><polygon points="582.8,1276 605.2,1276 594,1287.2" fill="#fff"/><polygon points="582.8,1276 594,1264.8 605.2,1276 594,1287.2" fill="none" stroke="#00f8f8" stroke-width="2"/>
<polygon points="612.2,1271.7 624.6,1259.3 637,1271.7" fill="#00f8f8"/><polygon points="613.4,1271.7 635.8,1271.7 624.6,1282.9" fill="#fff"/><polygon points="613.4,1271.7 624.6,1260.5 635.8,1271.7 624.6,1282.9" fill="none" stroke="#00f8f8" stroke-width="2"/>
<polygon points="642.8,1269.6 655.2,1257.2 667.6,1269.6" fill="#00f8f8"/><polygon points="644,1269.6 666.4,1269.6 655.2,1280.8" fill="#fff"/><polygon points="644,1269.6 655.2,1258.4 666.4,1269.6 655.2,1280.8" fill="none" stroke="#00f8f8" stroke-width="2"/>
<polygon points="673.5,1264.4 685.9,1252 698.3,1264.4" fill="#00f8f8"/><polygon points="674.7,1264.4 697.1,1264.4 685.9,1275.6" fill="#fff"/><polygon points="674.7,1264.4 685.9,1253.2 697.1,1264.4 685.9,1275.6" fill="none" stroke="#00f8f8" stroke-width="2"/>
<polygon points="705.1,1263.9 717.5,1251.5 729.9,1263.9" fill="#00f8f8"/><polygon points="706.3,1263.9 728.7,1263.9 717.5,1275.1" fill="#fff"/><polygon points="706.3,1263.9 717.5,1252.7 728.7,1263.9 717.5,1275.1" fill="none" stroke="#00f8f8" stroke-width="2"/>
<polygon points="735.7,1265.3 748.1,1252.9 760.5,1265.3" fill="#00f8f8"/><polygon points="736.9,1265.3 759.3,1265.3 748.1,1276.5" fill="#fff"/><polygon points="736.9,1265.3 748.1,1254.1 759.3,1265.3 748.1,1276.5" fill="none" stroke="#00f8f8" stroke-width="2"/>
<polygon points="765.2,1252.2 777.6,1239.8 790,1252.2" fill="#00f8f8"/><polygon points="766.4,1252.2 788.8,1252.2 777.6,1263.4" fill="#fff"/><polygon points="766.4,1252.2 777.6,1241 788.8,1252.2 777.6,1263.4" fill="none" stroke="#00f8f8" stroke-width="2"/>
<polygon points="796.3,1251.2 808.7,1238.8 821.1,1251.2" fill="#00f8f8"/><polygon points="797.5,1251.2 819.9,1251.2 808.7,1262.4" fill="#fff"/><polygon points="797.5,1251.2 808.7,1240 819.9,1251.2 808.7,1262.4" fill="none" stroke="#00f8f8" stroke-width="2"/>
<polygon points="826.5,1248 838.9,1235.6 851.3,1248" fill="#00f8f8"/><polygon points="827.7,1248 850.1,1248 838.9,1259.2" fill="#fff"/><polygon points="827.7,1248 838.9,1236.8 850.1,1248 838.9,1259.2" fill="none" stroke="#00f8f8" stroke-width="2"/>
<polygon points="857.5,1248.4 869.9,1236 882.3,1248.4" fill="#00f8f8"/><polygon points="858.7,1248.4 881.1,1248.4 869.9,1259.6" fill="#fff"/><polygon points="858.7,1248.4 869.9,1237.2 881.1,1248.4 869.9,1259.6" fill="none" stroke="#00f8f8" stroke-width="2"/>
<polyline points="139.9,1496.5 140.9,1490.8 143.7,1485 147,1479.4 150.4,1472.7 155.1,1467 160.8,1462.2 167,1458.4 172.7,1453.7 178.9,1446 196,1427.5 212.1,1404 226,1372 240.5,1344 256,1323 284.5,1296.6 313,1271 341.6,1247.8 370.5,1227.9 399.2,1206.4 429.2,1190.2 458.8,1173.3 487.7,1158.5 516.7,1144.5 546.2,1132.9 576.9,1121.2 605.8,1110.7 636,1099.1 665.6,1087.5 695,1078.5 724.9,1070.7 755.8,1060.2 785.4,1050.7 815,1043.3 845.6,1038" fill="none" stroke="#ff00ff" stroke-width="1.3"/>
<polygon points="126.97,1496.5 146.37,1484.3 146.37,1496.5" fill="#ff00ff"/><polygon points="128.57,1496.5 145.37,1496.5 145.37,1507.4" fill="#fff"/><polygon points="128.57,1496.5 145.37,1485.6 145.37,1507.4" fill="none" stroke="#ff00ff" stroke-width="2"/>
<polygon points="127.97,1490.8 147.37,1478.6 147.37,1490.8" fill="#ff00ff"/><polygon points="129.57,1490.8 146.37,1490.8 146.37,1501.7" fill="#fff"/><polygon points="129.57,1490.8 146.37,1479.9 146.37,1501.7" fill="none" stroke="#ff00ff" stroke-width="2"/>
<polygon points="130.77,1485 150.17,1472.8 150.17,1485" fill="#ff00ff"/><polygon points="132.37,1485 149.17,1485 149.17,1495.9" fill="#fff"/><polygon points="132.37,1485 149.17,1474.1 149.17,1495.9" fill="none" stroke="#ff00ff" stroke-width="2"/>
<polygon points="134.07,1479.4 153.47,1467.2 153.47,1479.4" fill="#ff00ff"/><polygon points="135.67,1479.4 152.47,1479.4 152.47,1490.3" fill="#fff"/><polygon points="135.67,1479.4 152.47,1468.5 152.47,1490.3" fill="none" stroke="#ff00ff" stroke-width="2"/>
<polygon points="137.47,1472.7 156.87,1460.5 156.87,1472.7" fill="#ff00ff"/><polygon points="139.07,1472.7 155.87,1472.7 155.87,1483.6" fill="#fff"/><polygon points="139.07,1472.7 155.87,1461.8 155.87,1483.6" fill="none" stroke="#ff00ff" stroke-width="2"/>
<polygon points="142.17,1467 161.57,1454.8 161.57,1467" fill="#ff00ff"/><polygon points="143.77,1467 160.57,1467 160.57,1477.9" fill="#fff"/><polygon points="143.77,1467 160.57,1456.1 160.57,1477.9" fill="none" stroke="#ff00ff" stroke-width="2"/>
<polygon points="147.87,1462.2 167.27,1450 167.27,1462.2" fill="#ff00ff"/><polygon points="149.47,1462.2 166.27,1462.2 166.27,1473.1" fill="#fff"/><polygon points="149.47,1462.2 166.27,1451.3 166.27,1473.1" fill="none" stroke="#ff00ff" stroke-width="2"/>
<polygon points="154.07,1458.4 173.47,1446.2 173.47,1458.4" fill="#ff00ff"/><polygon points="155.67,1458.4 172.47,1458.4 172.47,1469.3" fill="#fff"/><polygon points="155.67,1458.4 172.47,1447.5 172.47,1469.3" fill="none" stroke="#ff00ff" stroke-width="2"/>
<polygon points="159.77,1453.7 179.17,1441.5 179.17,1453.7" fill="#ff00ff"/><polygon points="161.37,1453.7 178.17,1453.7 178.17,1464.6" fill="#fff"/><polygon points="161.37,1453.7 178.17,1442.8 178.17,1464.6" fill="none" stroke="#ff00ff" stroke-width="2"/>
<polygon points="165.97,1446 185.37,1433.8 185.37,1446" fill="#ff00ff"/><polygon points="167.57,1446 184.37,1446 184.37,1456.9" fill="#fff"/><polygon points="167.57,1446 184.37,1435.1 184.37,1456.9" fill="none" stroke="#ff00ff" stroke-width="2"/>
<polygon points="183.07,1427.5 202.47,1415.3 202.47,1427.5" fill="#ff00ff"/><polygon points="184.67,1427.5 201.47,1427.5 201.47,1438.4" fill="#fff"/><polygon points="184.67,1427.5 201.47,1416.6 201.47,1438.4" fill="none" stroke="#ff00ff" stroke-width="2"/>
<polygon points="199.17,1404 218.57,1391.8 218.57,1404" fill="#ff00ff"/><polygon points="200.77,1404 217.57,1404 217.57,1414.9" fill="#fff"/><polygon points="200.77,1404 217.57,1393.1 217.57,1414.9" fill="none" stroke="#ff00ff" stroke-width="2"/>
<polygon points="213.07,1372 232.47,1359.8 232.47,1372" fill="#ff00ff"/><polygon points="214.67,1372 231.47,1372 231.47,1382.9" fill="#fff"/><polygon points="214.67,1372 231.47,1361.1 231.47,1382.9" fill="none" stroke="#ff00ff" stroke-width="2"/>
<polygon points="227.57,1344 246.97,1331.8 246.97,1344" fill="#ff00ff"/><polygon points="229.17,1344 245.97,1344 245.97,1354.9" fill="#fff"/><polygon points="229.17,1344 245.97,1333.1 245.97,1354.9" fill="none" stroke="#ff00ff" stroke-width="2"/>
<polygon points="243.07,1323 262.47,1310.8 262.47,1323" fill="#ff00ff"/><polygon points="244.67,1323 261.47,1323 261.47,1333.9" fill="#fff"/><polygon points="244.67,1323 261.47,1312.1 261.47,1333.9" fill="none" stroke="#ff00ff" stroke-width="2"/>
<polygon points="271.57,1296.6 290.97,1284.4 290.97,1296.6" fill="#ff00ff"/><polygon points="273.17,1296.6 289.97,1296.6 289.97,1307.5" fill="#fff"/><polygon points="273.17,1296.6 289.97,1285.7 289.97,1307.5" fill="none" stroke="#ff00ff" stroke-width="2"/>
<polygon points="300.07,1271 319.47,1258.8 319.47,1271" fill="#ff00ff"/><polygon points="301.67,1271 318.47,1271 318.47,1281.9" fill="#fff"/><polygon points="301.67,1271 318.47,1260.1 318.47,1281.9" fill="none" stroke="#ff00ff" stroke-width="2"/>
<polygon points="328.67,1247.8 348.07,1235.6 348.07,1247.8" fill="#ff00ff"/><polygon points="330.27,1247.8 347.07,1247.8 347.07,1258.7" fill="#fff"/><polygon points="330.27,1247.8 347.07,1236.9 347.07,1258.7" fill="none" stroke="#ff00ff" stroke-width="2"/>
<polygon points="357.57,1227.9 376.97,1215.7 376.97,1227.9" fill="#ff00ff"/><polygon points="359.17,1227.9 375.97,1227.9 375.97,1238.8" fill="#fff"/><polygon points="359.17,1227.9 375.97,1217 375.97,1238.8" fill="none" stroke="#ff00ff" stroke-width="2"/>
<polygon points="386.27,1206.4 405.67,1194.2 405.67,1206.4" fill="#ff00ff"/><polygon points="387.87,1206.4 404.67,1206.4 404.67,1217.3" fill="#fff"/><polygon points="387.87,1206.4 404.67,1195.5 404.67,1217.3" fill="none" stroke="#ff00ff" stroke-width="2"/>
<polygon points="416.27,1190.2 435.67,1178 435.67,1190.2" fill="#ff00ff"/><polygon points="417.87,1190.2 434.67,1190.2 434.67,1201.1" fill="#fff"/><polygon points="417.87,1190.2 434.67,1179.3 434.67,1201.1" fill="none" stroke="#ff00ff" stroke-width="2"/>
<polygon points="445.87,1173.3 465.27,1161.1 465.27,1173.3" fill="#ff00ff"/><polygon points="447.47,1173.3 464.27,1173.3 464.27,1184.2" fill="#fff"/><polygon points="447.47,1173.3 464.27,1162.4 464.27,1184.2" fill="none" stroke="#ff00ff" stroke-width="2"/>
<polygon points="474.77,1158.5 494.17,1146.3 494.17,1158.5" fill="#ff00ff"/><polygon points="476.37,1158.5 493.17,1158.5 493.17,1169.4" fill="#fff"/><polygon points="476.37,1158.5 493.17,1147.6 493.17,1169.4" fill="none" stroke="#ff00ff" stroke-width="2"/>
<polygon points="503.77,1144.5 523.17,1132.3 523.17,1144.5" fill="#ff00ff"/><polygon points="505.37,1144.5 522.17,1144.5 522.17,1155.4" fill="#fff"/><polygon points="505.37,1144.5 522.17,1133.6 522.17,1155.4" fill="none" stroke="#ff00ff" stroke-width="2"/>
<polygon points="533.27,1132.9 552.67,1120.7 552.67,1132.9" fill="#ff00ff"/><polygon points="534.87,1132.9 551.67,1132.9 551.67,1143.8" fill="#fff"/><polygon points="534.87,1132.9 551.67,1122 551.67,1143.8" fill="none" stroke="#ff00ff" stroke-width="2"/>
<polygon points="563.97,1121.2 583.37,1109 583.37,1121.2" fill="#ff00ff"/><polygon points="565.57,1121.2 582.37,1121.2 582.37,1132.1" fill="#fff"/><polygon points="565.57,1121.2 582.37,1110.3 582.37,1132.1" fill="none" stroke="#ff00ff" stroke-width="2"/>
<polygon points="592.87,1110.7 612.27,1098.5 612.27,1110.7" fill="#ff00ff"/><polygon points="594.47,1110.7 611.27,1110.7 611.27,1121.6" fill="#fff"/><polygon points="594.47,1110.7 611.27,1099.8 611.27,1121.6" fill="none" stroke="#ff00ff" stroke-width="2"/>
<polygon points="623.07,1099.1 642.47,1086.9 642.47,1099.1" fill="#ff00ff"/><polygon points="624.67,1099.1 641.47,1099.1 641.47,1110" fill="#fff"/><polygon points="624.67,1099.1 641.47,1088.2 641.47,1110" fill="none" stroke="#ff00ff" stroke-width="2"/>
<polygon points="652.67,1087.5 672.07,1075.3 672.07,1087.5" fill="#ff00ff"/><polygon points="654.27,1087.5 671.07,1087.5 671.07,1098.4" fill="#fff"/><polygon points="654.27,1087.5 671.07,1076.6 671.07,1098.4" fill="none" stroke="#ff00ff" stroke-width="2"/>
<polygon points="682.07,1078.5 701.47,1066.3 701.47,1078.5" fill="#ff00ff"/><polygon points="683.67,1078.5 700.47,1078.5 700.47,1089.4" fill="#fff"/><polygon points="683.67,1078.5 700.47,1067.6 700.47,1089.4" fill="none" stroke="#ff00ff" stroke-width="2"/>
<polygon points="711.97,1070.7 731.37,1058.5 731.37,1070.7" fill="#ff00ff"/><polygon points="713.57,1070.7 730.37,1070.7 730.37,1081.6" fill="#fff"/><polygon points="713.57,1070.7 730.37,1059.8 730.37,1081.6" fill="none" stroke="#ff00ff" stroke-width="2"/>
<polygon points="742.87,1060.2 762.27,1048 762.27,1060.2" fill="#ff00ff"/><polygon points="744.47,1060.2 761.27,1060.2 761.27,1071.1" fill="#fff"/><polygon points="744.47,1060.2 761.27,1049.3 761.27,1071.1" fill="none" stroke="#ff00ff" stroke-width="2"/>
<polygon points="772.47,1050.7 791.87,1038.5 791.87,1050.7" fill="#ff00ff"/><polygon points="774.07,1050.7 790.87,1050.7 790.87,1061.6" fill="#fff"/><polygon points="774.07,1050.7 790.87,1039.8 790.87,1061.6" fill="none" stroke="#ff00ff" stroke-width="2"/>
<polygon points="802.07,1043.3 821.47,1031.1 821.47,1043.3" fill="#ff00ff"/><polygon points="803.67,1043.3 820.47,1043.3 820.47,1054.2" fill="#fff"/><polygon points="803.67,1043.3 820.47,1032.4 820.47,1054.2" fill="none" stroke="#ff00ff" stroke-width="2"/>
<polygon points="832.67,1038 852.07,1025.8 852.07,1038" fill="#ff00ff"/><polygon points="834.27,1038 851.07,1038 851.07,1048.9" fill="#fff"/><polygon points="834.27,1038 851.07,1027.1 851.07,1048.9" fill="none" stroke="#ff00ff" stroke-width="2"/>
</g>
<path d="M138.3,866.2 V1499.1 M136.8,1499.1 H923.5" stroke="#000" stroke-width="2.7" fill="none"/>
<path d="M162.6,1499.1 v-5.5 M187.1,1499.1 v-10.5 M211.6,1499.1 v-5.5 M236.1,1499.1 v-10.5 M260.6,1499.1 v-5.5 M285.1,1499.1 v-10.5 M309.6,1499.1 v-5.5 M334.1,1499.1 v-10.5 M358.6,1499.1 v-5.5 M383.1,1499.1 v-10.5 M407.6,1499.1 v-5.5 M432.1,1499.1 v-10.5 M456.6,1499.1 v-5.5 M481.1,1499.1 v-10.5 M505.6,1499.1 v-5.5 M530.1,1499.1 v-10.5 M554.6,1499.1 v-5.5 M579.1,1499.1 v-10.5 M603.6,1499.1 v-5.5 M628.1,1499.1 v-10.5 M652.6,1499.1 v-5.5 M677.1,1499.1 v-10.5 M701.6,1499.1 v-5.5 M726.1,1499.1 v-10.5 M750.6,1499.1 v-5.5 M775.1,1499.1 v-10.5 M799.6,1499.1 v-5.5 M824.1,1499.1 v-10.5 M848.6,1499.1 v-5.5 M873.1,1499.1 v-10.5 M897.6,1499.1 v-5.5 M922.1,1499.1 v-10.5 M138.3,1393.85 h5.5 M138.3,1288.6 h11 M138.3,1183.35 h5.5 M138.3,1078.1 h11 M138.3,972.85 h5.5 M138.3,867.6 h11" stroke="#000" stroke-width="2.6" fill="none"/>
<text x="103.6" y="1511.9" font-size="42">0</text>
<text x="104.32" y="1301.4" font-size="42">2</text>
<text x="102.66" y="1090.9" font-size="42">4</text>
<text x="103.25" y="880.4" font-size="42">6</text>
<text x="138.7" y="1545.4" font-size="42" text-anchor="middle">0</text>
<text x="187.7" y="1545.4" font-size="42" text-anchor="middle">1</text>
<text x="236.7" y="1545.4" font-size="42" text-anchor="middle">2</text>
<text x="285.7" y="1545.4" font-size="42" text-anchor="middle">3</text>
<text x="334.7" y="1545.4" font-size="42" text-anchor="middle">4</text>
<text x="383.7" y="1545.4" font-size="42" text-anchor="middle">5</text>
<text x="432.7" y="1545.4" font-size="42" text-anchor="middle">6</text>
<text x="481.7" y="1545.4" font-size="42" text-anchor="middle">7</text>
<text x="530.7" y="1545.4" font-size="42" text-anchor="middle">8</text>
<text x="579.7" y="1545.4" font-size="42" text-anchor="middle">9</text>
<text x="628.7" y="1545.4" font-size="42" text-anchor="middle">10</text>
<text x="677.7" y="1545.4" font-size="42" text-anchor="middle">11</text>
<text x="726.7" y="1545.4" font-size="42" text-anchor="middle">12</text>
<text x="775.7" y="1545.4" font-size="42" text-anchor="middle">13</text>
<text x="824.7" y="1545.4" font-size="42" text-anchor="middle">14</text>
<text x="873.7" y="1545.4" font-size="42" text-anchor="middle">15</text>
<text x="922.7" y="1545.4" font-size="42" text-anchor="middle">16</text>
<text x="399.49" y="1605.9" font-size="41.49">Axial strain</text>
<text transform="translate(605.08,1605.9) scale(1.107,1.000)" font-size="41.49">ε</text>
<text transform="translate(622.83,1617.03) scale(1.184,1.000)" font-size="29.04" font-style="italic">a</text>
<line x1="660.59" y1="1608.23" x2="677.49" y2="1574.12" stroke="#000" stroke-width="2.23"/>
<text transform="translate(679.7,1605.9) scale(1.014,1.000)" font-size="41.49">%</text>
<g transform="translate(53.8,1462.8) rotate(-90)"><text x="-1.2" y="0" font-size="41.57">Deviatoric stress</text>
<text transform="translate(280.48,0) scale(1.020,1.000)" font-size="41.57" font-style="italic">(</text>
<g transform="skewX(-12)"><path d="M295.78,-8.97 a9.43,9.99 0 1,0 18.86,0 a9.43,9.99 0 1,0 -18.86,0 Z M298.52,-8.97 a6.69,8.47 0 1,0 13.38,0 a6.69,8.47 0 1,0 -13.38,0 Z" fill="#000" fill-rule="evenodd"/><rect x="305.21" y="-18.96" width="14.17" height="2.53" fill="#000"/></g>
<text transform="translate(320.28,11.66) scale(0.859,1.000)" font-size="30.42" font-style="italic">1</text>
<rect x="338.05" y="-11.36" width="20.68" height="2.64" fill="#000"/>
<g transform="skewX(-12)"><path d="M358.55,-8.97 a9.43,9.99 0 1,0 18.86,0 a9.43,9.99 0 1,0 -18.86,0 Z M361.28,-8.97 a6.69,8.47 0 1,0 13.38,0 a6.69,8.47 0 1,0 -13.38,0 Z" fill="#000" fill-rule="evenodd"/><rect x="367.98" y="-18.96" width="14.47" height="2.53" fill="#000"/></g>
<text transform="translate(379.37,12.37) scale(1.056,1.000)" font-size="30.92">3</text>
<text transform="translate(395.7,0) scale(1.016,1.000)" font-size="41.57">)</text>
<text transform="translate(420.68,0) scale(0.939,1.000)" font-size="41.57">/</text>
<text transform="translate(443.33,0) scale(0.988,1.000)" font-size="41.57">10</text>
<text transform="translate(483.37,-16.73) scale(1.075,1.000)" font-size="29.4">2</text>
<text transform="translate(505.26,0) scale(1.009,1.000)" font-size="41.57">kPa</text></g>
<line x1="156.7" y1="883.6" x2="195.6" y2="883.6" stroke="#000000" stroke-width="1.6"/>
<rect x="167.62" y="875.32" width="16.56" height="16.56" fill="#000000"/>
<text transform="translate(205,890.34) scale(0.934,1.000)" font-size="19.26">(</text>
<path d="M212.63,884.03 a7.56,6.64 0 1,0 15.12,0 a7.56,6.64 0 1,0 -15.12,0 Z M215.37,884.03 a4.81,5.1 0 1,0 9.63,0 a4.81,5.1 0 1,0 -9.63,0 Z" fill="#000" fill-rule="evenodd"/>
<rect x="218.31" y="876.57" width="11.36" height="2.31" fill="#000"/>
<text transform="translate(230.13,895.44) scale(0.958,1.000)" font-size="21.67">3</text>
<rect x="242" y="882.44" width="7.9" height="2.5" fill="#000"/>
<text transform="translate(250.04,890.24) scale(1.261,1.000)" font-size="28.41" font-style="italic">u</text>
<text transform="translate(266.76,895.73) scale(1.073,1.000)" font-size="20.22">a</text>
<text transform="translate(277.22,890.44) scale(0.973,1.000)" font-size="19.26">)</text>
<text transform="translate(300.32,896) scale(0.959,1.000)" font-size="22.15">undisturbed loess</text>
<line x1="450.6" y1="893.8" x2="462.1" y2="866.3" stroke="#000" stroke-width="1.5"/>
<text transform="translate(463.13,889.6) scale(1.110,1.000)" font-size="29">50 kPa</text>
<line x1="156.7" y1="929.8" x2="195.6" y2="929.8" stroke="#f24141" stroke-width="1.6"/>
<circle cx="175.9" cy="929.8" r="9.63" fill="#f24141"/>
<text transform="translate(205,936.54) scale(0.934,1.000)" font-size="19.26">(</text>
<path d="M212.63,930.23 a7.56,6.64 0 1,0 15.12,0 a7.56,6.64 0 1,0 -15.12,0 Z M215.37,930.23 a4.81,5.1 0 1,0 9.63,0 a4.81,5.1 0 1,0 -9.63,0 Z" fill="#000" fill-rule="evenodd"/>
<rect x="218.31" y="922.77" width="11.36" height="2.31" fill="#000"/>
<text transform="translate(230.13,941.64) scale(0.958,1.000)" font-size="21.67">3</text>
<rect x="242" y="928.64" width="7.9" height="2.5" fill="#000"/>
<text transform="translate(250.04,936.44) scale(1.261,1.000)" font-size="28.41" font-style="italic">u</text>
<text transform="translate(266.76,941.93) scale(1.073,1.000)" font-size="20.22">a</text>
<text transform="translate(277.22,936.64) scale(0.973,1.000)" font-size="19.26">)</text>
<text transform="translate(300.32,942.2) scale(0.959,1.000)" font-size="22.15">undisturbed loess</text>
<line x1="450.6" y1="940" x2="462.1" y2="912.5" stroke="#000" stroke-width="1.5"/>
<text transform="translate(462.14,935.8) scale(1.120,1.000)" font-size="29">100 kPa</text>
<line x1="156.7" y1="976" x2="195.6" y2="976" stroke="#00f000" stroke-width="1.6"/>
<polygon points="175.9,962.77 187.46,982.61 164.34,982.61" fill="#00f000"/>
<text transform="translate(205,982.74) scale(0.934,1.000)" font-size="19.26">(</text>
<path d="M212.63,976.43 a7.56,6.64 0 1,0 15.12,0 a7.56,6.64 0 1,0 -15.12,0 Z M215.37,976.43 a4.81,5.1 0 1,0 9.63,0 a4.81,5.1 0 1,0 -9.63,0 Z" fill="#000" fill-rule="evenodd"/>
<rect x="218.31" y="968.97" width="11.36" height="2.31" fill="#000"/>
<text transform="translate(230.13,987.84) scale(0.958,1.000)" font-size="21.67">3</text>
<rect x="242" y="974.84" width="7.9" height="2.5" fill="#000"/>
<text transform="translate(250.04,982.64) scale(1.261,1.000)" font-size="28.41" font-style="italic">u</text>
<text transform="translate(266.76,988.13) scale(1.073,1.000)" font-size="20.22">a</text>
<text transform="translate(277.22,982.84) scale(0.973,1.000)" font-size="19.26">)</text>
<text transform="translate(300.32,988.4) scale(0.959,1.000)" font-size="22.15">undisturbed loess</text>
<line x1="450.6" y1="986.2" x2="462.1" y2="958.7" stroke="#000" stroke-width="1.5"/>
<text transform="translate(463.59,982) scale(1.105,1.000)" font-size="29">200 kPa</text>
<line x1="156.7" y1="1022.2" x2="195.6" y2="1022.2" stroke="#0000ff" stroke-width="1.6"/>
<polygon points="164.54,1015.46 187.26,1015.46 183.48,1022.2 168.32,1022.2" fill="#0000ff"/><polygon points="168.92,1022.2 182.88,1022.2 175.9,1034.08" fill="#fff"/><polygon points="165.74,1016.26 186.06,1016.26 175.9,1034.08" fill="none" stroke="#0000ff" stroke-width="2"/>
<text transform="translate(205,1028.94) scale(0.934,1.000)" font-size="19.26">(</text>
<path d="M212.63,1022.63 a7.56,6.64 0 1,0 15.12,0 a7.56,6.64 0 1,0 -15.12,0 Z M215.37,1022.63 a4.81,5.1 0 1,0 9.63,0 a4.81,5.1 0 1,0 -9.63,0 Z" fill="#000" fill-rule="evenodd"/>
<rect x="218.31" y="1015.17" width="11.36" height="2.31" fill="#000"/>
<text transform="translate(230.13,1034.04) scale(0.958,1.000)" font-size="21.67">3</text>
<rect x="242" y="1021.04" width="7.9" height="2.5" fill="#000"/>
<text transform="translate(250.04,1028.84) scale(1.261,1.000)" font-size="28.41" font-style="italic">u</text>
<text transform="translate(266.76,1034.33) scale(1.073,1.000)" font-size="20.22">a</text>
<text transform="translate(277.22,1029.04) scale(0.973,1.000)" font-size="19.26">)</text>
<text transform="translate(293.38,1034.6) scale(0.945,1.000)" font-size="22.15">remolded loess</text>
<line x1="421" y1="1033.2" x2="433.5" y2="1006.1" stroke="#000" stroke-width="1.5"/>
<text transform="translate(435.25,1029.2) scale(1.096,1.000)" font-size="29">50 kPa</text>
<line x1="156.7" y1="1068.4" x2="195.6" y2="1068.4" stroke="#00f8f8" stroke-width="1.6"/>
<polygon points="163.96,1068.4 175.9,1056.46 187.84,1068.4" fill="#00f8f8"/><polygon points="165.16,1068.4 186.64,1068.4 175.9,1079.14" fill="#fff"/><polygon points="165.16,1068.4 175.9,1057.66 186.64,1068.4 175.9,1079.14" fill="none" stroke="#00f8f8" stroke-width="2"/>
<text transform="translate(205,1075.14) scale(0.934,1.000)" font-size="19.26">(</text>
<path d="M212.63,1068.83 a7.56,6.64 0 1,0 15.12,0 a7.56,6.64 0 1,0 -15.12,0 Z M215.37,1068.83 a4.81,5.1 0 1,0 9.63,0 a4.81,5.1 0 1,0 -9.63,0 Z" fill="#000" fill-rule="evenodd"/>
<rect x="218.31" y="1061.37" width="11.36" height="2.31" fill="#000"/>
<text transform="translate(230.13,1080.24) scale(0.958,1.000)" font-size="21.67">3</text>
<rect x="242" y="1067.24" width="7.9" height="2.5" fill="#000"/>
<text transform="translate(250.04,1075.04) scale(1.261,1.000)" font-size="28.41" font-style="italic">u</text>
<text transform="translate(266.76,1080.53) scale(1.073,1.000)" font-size="20.22">a</text>
<text transform="translate(277.22,1075.24) scale(0.973,1.000)" font-size="19.26">)</text>
<text transform="translate(293.38,1080.8) scale(0.945,1.000)" font-size="22.15">remolded loess</text>
<line x1="421" y1="1079.4" x2="433.5" y2="1052.3" stroke="#000" stroke-width="1.5"/>
<text transform="translate(434.28,1075.4) scale(1.106,1.000)" font-size="29">100 kPa</text>
<line x1="156.7" y1="1114.6" x2="195.6" y2="1114.6" stroke="#ff00ff" stroke-width="1.6"/>
<polygon points="163.45,1114.6 182.13,1102.85 182.13,1114.6" fill="#ff00ff"/><polygon points="165.05,1114.6 181.13,1114.6 181.13,1125.05" fill="#fff"/><polygon points="165.05,1114.6 181.13,1104.15 181.13,1125.05" fill="none" stroke="#ff00ff" stroke-width="2"/>
<text transform="translate(205,1121.34) scale(0.934,1.000)" font-size="19.26">(</text>
<path d="M212.63,1115.03 a7.56,6.64 0 1,0 15.12,0 a7.56,6.64 0 1,0 -15.12,0 Z M215.37,1115.03 a4.81,5.1 0 1,0 9.63,0 a4.81,5.1 0 1,0 -9.63,0 Z" fill="#000" fill-rule="evenodd"/>
<rect x="218.31" y="1107.57" width="11.36" height="2.31" fill="#000"/>
<text transform="translate(230.13,1126.44) scale(0.958,1.000)" font-size="21.67">3</text>
<rect x="242" y="1113.44" width="7.9" height="2.5" fill="#000"/>
<text transform="translate(250.04,1121.24) scale(1.261,1.000)" font-size="28.41" font-style="italic">u</text>
<text transform="translate(266.76,1126.73) scale(1.073,1.000)" font-size="20.22">a</text>
<text transform="translate(277.22,1121.44) scale(0.973,1.000)" font-size="19.26">)</text>
<text transform="translate(293.38,1127) scale(0.945,1.000)" font-size="22.15">remolded loess</text>
<line x1="421" y1="1125.6" x2="433.5" y2="1098.5" stroke="#000" stroke-width="1.5"/>
<text transform="translate(435.71,1121.6) scale(1.091,1.000)" font-size="29">200 kPa</text>
<text transform="translate(427,1656.1) scale(1.108,1.000)" font-size="37" font-weight="bold">(b)</text>
<text x="480.96" y="1654.5" font-size="32.8">s</text>
<rect x="497.8" y="1637.85" width="24.4" height="1.5" fill="#000"/>
<rect x="497.8" y="1644.45" width="24.4" height="1.5" fill="#000"/>
<text transform="translate(526.38,1654.5) scale(0.978,1.000)" font-size="32.8">100 kPa</text>
<rect x="3" y="1666" width="940" height="770" fill="#fafafa"/>
<clipPath id="clipc"><rect x="151.8" y="1688" width="770.65" height="621"/></clipPath>
<g clip-path="url(#clipc)">
<polyline points="153,2303 156,2292 160,2280 165,2266 171,2254 178,2243 185,2229 198,2192.5 214.5,2164.7 229.6,2147 246.1,2128 263.5,2118.5 292.5,2109.8 322,2107.9 352.4,2106 381.9,2107.1 411.5,2108.8 443,2109.2 473.2,2109.2 503.4,2106.9 533.6,2104.6 562.6,2103.9 591.6,2098.8 621.4,2096.4 651.1,2096 712.7,2097.8 743.3,2097.8 773.1,2096.6 802.8,2096.6 832.7,2094.7 862.8,2094.7" fill="none" stroke="#000000" stroke-width="1.3"/>
<rect x="144.4" y="2294.4" width="17.2" height="17.2" fill="#000000"/>
<rect x="147.4" y="2283.4" width="17.2" height="17.2" fill="#000000"/>
<rect x="151.4" y="2271.4" width="17.2" height="17.2" fill="#000000"/>
<rect x="156.4" y="2257.4" width="17.2" height="17.2" fill="#000000"/>
<rect x="162.4" y="2245.4" width="17.2" height="17.2" fill="#000000"/>
<rect x="169.4" y="2234.4" width="17.2" height="17.2" fill="#000000"/>
<rect x="176.4" y="2220.4" width="17.2" height="17.2" fill="#000000"/>
<rect x="189.4" y="2183.9" width="17.2" height="17.2" fill="#000000"/>
<rect x="205.9" y="2156.1" width="17.2" height="17.2" fill="#000000"/>
<rect x="221" y="2138.4" width="17.2" height="17.2" fill="#000000"/>
<rect x="237.5" y="2119.4" width="17.2" height="17.2" fill="#000000"/>
<rect x="254.9" y="2109.9" width="17.2" height="17.2" fill="#000000"/>
<rect x="283.9" y="2101.2" width="17.2" height="17.2" fill="#000000"/>
<rect x="313.4" y="2099.3" width="17.2" height="17.2" fill="#000000"/>
<rect x="343.8" y="2097.4" width="17.2" height="17.2" fill="#000000"/>
<rect x="373.3" y="2098.5" width="17.2" height="17.2" fill="#000000"/>
<rect x="402.9" y="2100.2" width="17.2" height="17.2" fill="#000000"/>
<rect x="434.4" y="2100.6" width="17.2" height="17.2" fill="#000000"/>
<rect x="464.6" y="2100.6" width="17.2" height="17.2" fill="#000000"/>
<rect x="494.8" y="2098.3" width="17.2" height="17.2" fill="#000000"/>
<rect x="525" y="2096" width="17.2" height="17.2" fill="#000000"/>
<rect x="554" y="2095.3" width="17.2" height="17.2" fill="#000000"/>
<rect x="583" y="2090.2" width="17.2" height="17.2" fill="#000000"/>
<rect x="612.8" y="2087.8" width="17.2" height="17.2" fill="#000000"/>
<rect x="642.5" y="2087.4" width="17.2" height="17.2" fill="#000000"/>
<rect x="704.1" y="2089.2" width="17.2" height="17.2" fill="#000000"/>
<rect x="734.7" y="2089.2" width="17.2" height="17.2" fill="#000000"/>
<rect x="764.5" y="2088" width="17.2" height="17.2" fill="#000000"/>
<rect x="794.2" y="2088" width="17.2" height="17.2" fill="#000000"/>
<rect x="824.1" y="2086.1" width="17.2" height="17.2" fill="#000000"/>
<rect x="854.2" y="2086.1" width="17.2" height="17.2" fill="#000000"/>
<polyline points="155,2303 160,2295 166,2287 173,2278 181,2268 190,2261 197.4,2257.6 206.9,2245.2 222.9,2230 238.1,2207.8 253.8,2184.5 270.1,2168.3 298.2,2149.3 327.1,2137.6 355.8,2126.5 384.7,2115.1 414,2109.9 444.1,2104.6 473.2,2097.6 502.7,2091.3 531.9,2084.4 562.1,2078.3 590,2071.4 617.8,2056.7 647.6,2053 677.8,2053 708,2049.5 737.5,2042.5 767.2,2039 796,2036 825.6,2033.1 855.2,2016.7" fill="none" stroke="#f24141" stroke-width="1.3"/>
<circle cx="155" cy="2303" r="10" fill="#f24141"/>
<circle cx="160" cy="2295" r="10" fill="#f24141"/>
<circle cx="166" cy="2287" r="10" fill="#f24141"/>
<circle cx="173" cy="2278" r="10" fill="#f24141"/>
<circle cx="181" cy="2268" r="10" fill="#f24141"/>
<circle cx="190" cy="2261" r="10" fill="#f24141"/>
<circle cx="197.4" cy="2257.6" r="10" fill="#f24141"/>
<circle cx="206.9" cy="2245.2" r="10" fill="#f24141"/>
<circle cx="222.9" cy="2230" r="10" fill="#f24141"/>
<circle cx="238.1" cy="2207.8" r="10" fill="#f24141"/>
<circle cx="253.8" cy="2184.5" r="10" fill="#f24141"/>
<circle cx="270.1" cy="2168.3" r="10" fill="#f24141"/>
<circle cx="298.2" cy="2149.3" r="10" fill="#f24141"/>
<circle cx="327.1" cy="2137.6" r="10" fill="#f24141"/>
<circle cx="355.8" cy="2126.5" r="10" fill="#f24141"/>
<circle cx="384.7" cy="2115.1" r="10" fill="#f24141"/>
<circle cx="414" cy="2109.9" r="10" fill="#f24141"/>
<circle cx="444.1" cy="2104.6" r="10" fill="#f24141"/>
<circle cx="473.2" cy="2097.6" r="10" fill="#f24141"/>
<circle cx="502.7" cy="2091.3" r="10" fill="#f24141"/>
<circle cx="531.9" cy="2084.4" r="10" fill="#f24141"/>
<circle cx="562.1" cy="2078.3" r="10" fill="#f24141"/>
<circle cx="590" cy="2071.4" r="10" fill="#f24141"/>
<circle cx="617.8" cy="2056.7" r="10" fill="#f24141"/>
<circle cx="647.6" cy="2053" r="10" fill="#f24141"/>
<circle cx="677.8" cy="2053" r="10" fill="#f24141"/>
<circle cx="708" cy="2049.5" r="10" fill="#f24141"/>
<circle cx="737.5" cy="2042.5" r="10" fill="#f24141"/>
<circle cx="767.2" cy="2039" r="10" fill="#f24141"/>
<circle cx="796" cy="2036" r="10" fill="#f24141"/>
<circle cx="825.6" cy="2033.1" r="10" fill="#f24141"/>
<circle cx="855.2" cy="2016.7" r="10" fill="#f24141"/>
<polyline points="151,2300 151.5,2288 152,2276 154,2266 158,2258 164,2256 171,2254 207.3,2232 222.5,2214 237.5,2198 255.5,2175 266.8,2142.5 291,2087.5 316.2,2053 343.3,2029.6 371.3,2009.3 399.2,1992.2 427.7,1978.8 456.8,1967.4 485.6,1956.6 513.9,1943.8 542.5,1931.1 571,1919 599.4,1906.7 627.7,1896.9 657,1886.9 685.1,1873.1 713.9,1860.4 742.5,1848.3 771.5,1839 800.5,1829 829.1,1819.7" fill="none" stroke="#00f000" stroke-width="1.3"/>
<polygon points="151,2286.27 163,2306.87 139,2306.87" fill="#00f000"/>
<polygon points="151.5,2274.27 163.5,2294.87 139.5,2294.87" fill="#00f000"/>
<polygon points="152,2262.27 164,2282.87 140,2282.87" fill="#00f000"/>
<polygon points="154,2252.27 166,2272.87 142,2272.87" fill="#00f000"/>
<polygon points="158,2244.27 170,2264.87 146,2264.87" fill="#00f000"/>
<polygon points="164,2242.27 176,2262.87 152,2262.87" fill="#00f000"/>
<polygon points="171,2240.27 183,2260.87 159,2260.87" fill="#00f000"/>
<polygon points="207.3,2218.27 219.3,2238.87 195.3,2238.87" fill="#00f000"/>
<polygon points="222.5,2200.27 234.5,2220.87 210.5,2220.87" fill="#00f000"/>
<polygon points="237.5,2184.27 249.5,2204.87 225.5,2204.87" fill="#00f000"/>
<polygon points="255.5,2161.27 267.5,2181.87 243.5,2181.87" fill="#00f000"/>
<polygon points="266.8,2128.77 278.8,2149.37 254.8,2149.37" fill="#00f000"/>
<polygon points="291,2073.77 303,2094.37 279,2094.37" fill="#00f000"/>
<polygon points="316.2,2039.27 328.2,2059.87 304.2,2059.87" fill="#00f000"/>
<polygon points="343.3,2015.87 355.3,2036.47 331.3,2036.47" fill="#00f000"/>
<polygon points="371.3,1995.57 383.3,2016.17 359.3,2016.17" fill="#00f000"/>
<polygon points="399.2,1978.47 411.2,1999.07 387.2,1999.07" fill="#00f000"/>
<polygon points="427.7,1965.07 439.7,1985.67 415.7,1985.67" fill="#00f000"/>
<polygon points="456.8,1953.67 468.8,1974.27 444.8,1974.27" fill="#00f000"/>
<polygon points="485.6,1942.87 497.6,1963.47 473.6,1963.47" fill="#00f000"/>
<polygon points="513.9,1930.07 525.9,1950.67 501.9,1950.67" fill="#00f000"/>
<polygon points="542.5,1917.37 554.5,1937.97 530.5,1937.97" fill="#00f000"/>
<polygon points="571,1905.27 583,1925.87 559,1925.87" fill="#00f000"/>
<polygon points="599.4,1892.97 611.4,1913.57 587.4,1913.57" fill="#00f000"/>
<polygon points="627.7,1883.17 639.7,1903.77 615.7,1903.77" fill="#00f000"/>
<polygon points="657,1873.17 669,1893.77 645,1893.77" fill="#00f000"/>
<polygon points="685.1,1859.37 697.1,1879.97 673.1,1879.97" fill="#00f000"/>
<polygon points="713.9,1846.67 725.9,1867.27 701.9,1867.27" fill="#00f000"/>
<polygon points="742.5,1834.57 754.5,1855.17 730.5,1855.17" fill="#00f000"/>
<polygon points="771.5,1825.27 783.5,1845.87 759.5,1845.87" fill="#00f000"/>
<polygon points="800.5,1815.27 812.5,1835.87 788.5,1835.87" fill="#00f000"/>
<polygon points="829.1,1805.97 841.1,1826.57 817.1,1826.57" fill="#00f000"/>
<polyline points="156,2305 165,2298 174,2292 181,2284 187,2281 193.6,2280 211,2277.5 228,2264.6 242,2236 257.5,2211 274.5,2197.5 302,2179.6 331.9,2170.6 361.3,2165.3 391,2160.6 420.4,2156.2 450.6,2152.2 480.8,2148.3 510.3,2145.7 540.5,2140.1 570.7,2141.1 602,2140.1 630.2,2137.8 660.9,2135 690.6,2133.1 720.3,2130.3 750.5,2126.1 780,2119.2 810.1,2117.5 840.5,2118.2 870.4,2116" fill="none" stroke="#0000ff" stroke-width="1.3"/>
<polygon points="144.2,2298 167.8,2298 163.87,2305 148.13,2305" fill="#0000ff"/><polygon points="148.73,2305 163.27,2305 156,2317.4" fill="#fff"/><polygon points="145.4,2298.8 166.6,2298.8 156,2317.4" fill="none" stroke="#0000ff" stroke-width="2"/>
<polygon points="153.2,2291 176.8,2291 172.87,2298 157.13,2298" fill="#0000ff"/><polygon points="157.73,2298 172.27,2298 165,2310.4" fill="#fff"/><polygon points="154.4,2291.8 175.6,2291.8 165,2310.4" fill="none" stroke="#0000ff" stroke-width="2"/>
<polygon points="162.2,2285 185.8,2285 181.87,2292 166.13,2292" fill="#0000ff"/><polygon points="166.73,2292 181.27,2292 174,2304.4" fill="#fff"/><polygon points="163.4,2285.8 184.6,2285.8 174,2304.4" fill="none" stroke="#0000ff" stroke-width="2"/>
<polygon points="169.2,2277 192.8,2277 188.87,2284 173.13,2284" fill="#0000ff"/><polygon points="173.73,2284 188.27,2284 181,2296.4" fill="#fff"/><polygon points="170.4,2277.8 191.6,2277.8 181,2296.4" fill="none" stroke="#0000ff" stroke-width="2"/>
<polygon points="175.2,2274 198.8,2274 194.87,2281 179.13,2281" fill="#0000ff"/><polygon points="179.73,2281 194.27,2281 187,2293.4" fill="#fff"/><polygon points="176.4,2274.8 197.6,2274.8 187,2293.4" fill="none" stroke="#0000ff" stroke-width="2"/>
<polygon points="181.8,2273 205.4,2273 201.47,2280 185.73,2280" fill="#0000ff"/><polygon points="186.33,2280 200.87,2280 193.6,2292.4" fill="#fff"/><polygon points="183,2273.8 204.2,2273.8 193.6,2292.4" fill="none" stroke="#0000ff" stroke-width="2"/>
<polygon points="199.2,2270.5 222.8,2270.5 218.87,2277.5 203.13,2277.5" fill="#0000ff"/><polygon points="203.73,2277.5 218.27,2277.5 211,2289.9" fill="#fff"/><polygon points="200.4,2271.3 221.6,2271.3 211,2289.9" fill="none" stroke="#0000ff" stroke-width="2"/>
<polygon points="216.2,2257.6 239.8,2257.6 235.87,2264.6 220.13,2264.6" fill="#0000ff"/><polygon points="220.73,2264.6 235.27,2264.6 228,2277" fill="#fff"/><polygon points="217.4,2258.4 238.6,2258.4 228,2277" fill="none" stroke="#0000ff" stroke-width="2"/>
<polygon points="230.2,2229 253.8,2229 249.87,2236 234.13,2236" fill="#0000ff"/><polygon points="234.73,2236 249.27,2236 242,2248.4" fill="#fff"/><polygon points="231.4,2229.8 252.6,2229.8 242,2248.4" fill="none" stroke="#0000ff" stroke-width="2"/>
<polygon points="245.7,2204 269.3,2204 265.37,2211 249.63,2211" fill="#0000ff"/><polygon points="250.23,2211 264.77,2211 257.5,2223.4" fill="#fff"/><polygon points="246.9,2204.8 268.1,2204.8 257.5,2223.4" fill="none" stroke="#0000ff" stroke-width="2"/>
<polygon points="262.7,2190.5 286.3,2190.5 282.37,2197.5 266.63,2197.5" fill="#0000ff"/><polygon points="267.23,2197.5 281.77,2197.5 274.5,2209.9" fill="#fff"/><polygon points="263.9,2191.3 285.1,2191.3 274.5,2209.9" fill="none" stroke="#0000ff" stroke-width="2"/>
<polygon points="290.2,2172.6 313.8,2172.6 309.87,2179.6 294.13,2179.6" fill="#0000ff"/><polygon points="294.73,2179.6 309.27,2179.6 302,2192" fill="#fff"/><polygon points="291.4,2173.4 312.6,2173.4 302,2192" fill="none" stroke="#0000ff" stroke-width="2"/>
<polygon points="320.1,2163.6 343.7,2163.6 339.77,2170.6 324.03,2170.6" fill="#0000ff"/><polygon points="324.63,2170.6 339.17,2170.6 331.9,2183" fill="#fff"/><polygon points="321.3,2164.4 342.5,2164.4 331.9,2183" fill="none" stroke="#0000ff" stroke-width="2"/>
<polygon points="349.5,2158.3 373.1,2158.3 369.17,2165.3 353.43,2165.3" fill="#0000ff"/><polygon points="354.03,2165.3 368.57,2165.3 361.3,2177.7" fill="#fff"/><polygon points="350.7,2159.1 371.9,2159.1 361.3,2177.7" fill="none" stroke="#0000ff" stroke-width="2"/>
<polygon points="379.2,2153.6 402.8,2153.6 398.87,2160.6 383.13,2160.6" fill="#0000ff"/><polygon points="383.73,2160.6 398.27,2160.6 391,2173" fill="#fff"/><polygon points="380.4,2154.4 401.6,2154.4 391,2173" fill="none" stroke="#0000ff" stroke-width="2"/>
<polygon points="408.6,2149.2 432.2,2149.2 428.27,2156.2 412.53,2156.2" fill="#0000ff"/><polygon points="413.13,2156.2 427.67,2156.2 420.4,2168.6" fill="#fff"/><polygon points="409.8,2150 431,2150 420.4,2168.6" fill="none" stroke="#0000ff" stroke-width="2"/>
<polygon points="438.8,2145.2 462.4,2145.2 458.47,2152.2 442.73,2152.2" fill="#0000ff"/><polygon points="443.33,2152.2 457.87,2152.2 450.6,2164.6" fill="#fff"/><polygon points="440,2146 461.2,2146 450.6,2164.6" fill="none" stroke="#0000ff" stroke-width="2"/>
<polygon points="469,2141.3 492.6,2141.3 488.67,2148.3 472.93,2148.3" fill="#0000ff"/><polygon points="473.53,2148.3 488.07,2148.3 480.8,2160.7" fill="#fff"/><polygon points="470.2,2142.1 491.4,2142.1 480.8,2160.7" fill="none" stroke="#0000ff" stroke-width="2"/>
<polygon points="498.5,2138.7 522.1,2138.7 518.17,2145.7 502.43,2145.7" fill="#0000ff"/><polygon points="503.03,2145.7 517.57,2145.7 510.3,2158.1" fill="#fff"/><polygon points="499.7,2139.5 520.9,2139.5 510.3,2158.1" fill="none" stroke="#0000ff" stroke-width="2"/>
<polygon points="528.7,2133.1 552.3,2133.1 548.37,2140.1 532.63,2140.1" fill="#0000ff"/><polygon points="533.23,2140.1 547.77,2140.1 540.5,2152.5" fill="#fff"/><polygon points="529.9,2133.9 551.1,2133.9 540.5,2152.5" fill="none" stroke="#0000ff" stroke-width="2"/>
<polygon points="558.9,2134.1 582.5,2134.1 578.57,2141.1 562.83,2141.1" fill="#0000ff"/><polygon points="563.43,2141.1 577.97,2141.1 570.7,2153.5" fill="#fff"/><polygon points="560.1,2134.9 581.3,2134.9 570.7,2153.5" fill="none" stroke="#0000ff" stroke-width="2"/>
<polygon points="590.2,2133.1 613.8,2133.1 609.87,2140.1 594.13,2140.1" fill="#0000ff"/><polygon points="594.73,2140.1 609.27,2140.1 602,2152.5" fill="#fff"/><polygon points="591.4,2133.9 612.6,2133.9 602,2152.5" fill="none" stroke="#0000ff" stroke-width="2"/>
<polygon points="618.4,2130.8 642,2130.8 638.07,2137.8 622.33,2137.8" fill="#0000ff"/><polygon points="622.93,2137.8 637.47,2137.8 630.2,2150.2" fill="#fff"/><polygon points="619.6,2131.6 640.8,2131.6 630.2,2150.2" fill="none" stroke="#0000ff" stroke-width="2"/>
<polygon points="649.1,2128 672.7,2128 668.77,2135 653.03,2135" fill="#0000ff"/><polygon points="653.63,2135 668.17,2135 660.9,2147.4" fill="#fff"/><polygon points="650.3,2128.8 671.5,2128.8 660.9,2147.4" fill="none" stroke="#0000ff" stroke-width="2"/>
<polygon points="678.8,2126.1 702.4,2126.1 698.47,2133.1 682.73,2133.1" fill="#0000ff"/><polygon points="683.33,2133.1 697.87,2133.1 690.6,2145.5" fill="#fff"/><polygon points="680,2126.9 701.2,2126.9 690.6,2145.5" fill="none" stroke="#0000ff" stroke-width="2"/>
<polygon points="708.5,2123.3 732.1,2123.3 728.17,2130.3 712.43,2130.3" fill="#0000ff"/><polygon points="713.03,2130.3 727.57,2130.3 720.3,2142.7" fill="#fff"/><polygon points="709.7,2124.1 730.9,2124.1 720.3,2142.7" fill="none" stroke="#0000ff" stroke-width="2"/>
<polygon points="738.7,2119.1 762.3,2119.1 758.37,2126.1 742.63,2126.1" fill="#0000ff"/><polygon points="743.23,2126.1 757.77,2126.1 750.5,2138.5" fill="#fff"/><polygon points="739.9,2119.9 761.1,2119.9 750.5,2138.5" fill="none" stroke="#0000ff" stroke-width="2"/>
<polygon points="768.2,2112.2 791.8,2112.2 787.87,2119.2 772.13,2119.2" fill="#0000ff"/><polygon points="772.73,2119.2 787.27,2119.2 780,2131.6" fill="#fff"/><polygon points="769.4,2113 790.6,2113 780,2131.6" fill="none" stroke="#0000ff" stroke-width="2"/>
<polygon points="798.3,2110.5 821.9,2110.5 817.97,2117.5 802.23,2117.5" fill="#0000ff"/><polygon points="802.83,2117.5 817.37,2117.5 810.1,2129.9" fill="#fff"/><polygon points="799.5,2111.3 820.7,2111.3 810.1,2129.9" fill="none" stroke="#0000ff" stroke-width="2"/>
<polygon points="828.7,2111.2 852.3,2111.2 848.37,2118.2 832.63,2118.2" fill="#0000ff"/><polygon points="833.23,2118.2 847.77,2118.2 840.5,2130.6" fill="#fff"/><polygon points="829.9,2112 851.1,2112 840.5,2130.6" fill="none" stroke="#0000ff" stroke-width="2"/>
<polygon points="858.6,2109 882.2,2109 878.27,2116 862.53,2116" fill="#0000ff"/><polygon points="863.13,2116 877.67,2116 870.4,2128.4" fill="#fff"/><polygon points="859.8,2109.8 881,2109.8 870.4,2128.4" fill="none" stroke="#0000ff" stroke-width="2"/>
<polyline points="153,2309 156.5,2308 160.4,2306 163.2,2298.4 167,2290.8 170.8,2283.2 175.6,2275.6 180.3,2270 184.5,2264 189.8,2257.6 193.4,2248.8 205.2,2218.3 220.9,2190.5 236.7,2174.5 253.3,2162 270.1,2149 299.2,2134.1 328.1,2120.4 357.5,2110.9 387.2,2102.8 416.7,2094.8 446.5,2084.4 476.7,2080.2 506.9,2076.7 537.1,2069.7 567.2,2065.8 597.4,2062.8 627.4,2056.5 656.9,2050.7 687.1,2046 716.1,2035.6 746.8,2037.9 777.7,2033.2 807.9,2034 838.3,2032.2 868.7,2029.7" fill="none" stroke="#00f8f8" stroke-width="1.3"/>
<polygon points="140.6,2309 153,2296.6 165.4,2309" fill="#00f8f8"/><polygon points="141.8,2309 164.2,2309 153,2320.2" fill="#fff"/><polygon points="141.8,2309 153,2297.8 164.2,2309 153,2320.2" fill="none" stroke="#00f8f8" stroke-width="2"/>
<polygon points="144.1,2308 156.5,2295.6 168.9,2308" fill="#00f8f8"/><polygon points="145.3,2308 167.7,2308 156.5,2319.2" fill="#fff"/><polygon points="145.3,2308 156.5,2296.8 167.7,2308 156.5,2319.2" fill="none" stroke="#00f8f8" stroke-width="2"/>
<polygon points="148,2306 160.4,2293.6 172.8,2306" fill="#00f8f8"/><polygon points="149.2,2306 171.6,2306 160.4,2317.2" fill="#fff"/><polygon points="149.2,2306 160.4,2294.8 171.6,2306 160.4,2317.2" fill="none" stroke="#00f8f8" stroke-width="2"/>
<polygon points="150.8,2298.4 163.2,2286 175.6,2298.4" fill="#00f8f8"/><polygon points="152,2298.4 174.4,2298.4 163.2,2309.6" fill="#fff"/><polygon points="152,2298.4 163.2,2287.2 174.4,2298.4 163.2,2309.6" fill="none" stroke="#00f8f8" stroke-width="2"/>
<polygon points="154.6,2290.8 167,2278.4 179.4,2290.8" fill="#00f8f8"/><polygon points="155.8,2290.8 178.2,2290.8 167,2302" fill="#fff"/><polygon points="155.8,2290.8 167,2279.6 178.2,2290.8 167,2302" fill="none" stroke="#00f8f8" stroke-width="2"/>
<polygon points="158.4,2283.2 170.8,2270.8 183.2,2283.2" fill="#00f8f8"/><polygon points="159.6,2283.2 182,2283.2 170.8,2294.4" fill="#fff"/><polygon points="159.6,2283.2 170.8,2272 182,2283.2 170.8,2294.4" fill="none" stroke="#00f8f8" stroke-width="2"/>
<polygon points="163.2,2275.6 175.6,2263.2 188,2275.6" fill="#00f8f8"/><polygon points="164.4,2275.6 186.8,2275.6 175.6,2286.8" fill="#fff"/><polygon points="164.4,2275.6 175.6,2264.4 186.8,2275.6 175.6,2286.8" fill="none" stroke="#00f8f8" stroke-width="2"/>
<polygon points="167.9,2270 180.3,2257.6 192.7,2270" fill="#00f8f8"/><polygon points="169.1,2270 191.5,2270 180.3,2281.2" fill="#fff"/><polygon points="169.1,2270 180.3,2258.8 191.5,2270 180.3,2281.2" fill="none" stroke="#00f8f8" stroke-width="2"/>
<polygon points="172.1,2264 184.5,2251.6 196.9,2264" fill="#00f8f8"/><polygon points="173.3,2264 195.7,2264 184.5,2275.2" fill="#fff"/><polygon points="173.3,2264 184.5,2252.8 195.7,2264 184.5,2275.2" fill="none" stroke="#00f8f8" stroke-width="2"/>
<polygon points="177.4,2257.6 189.8,2245.2 202.2,2257.6" fill="#00f8f8"/><polygon points="178.6,2257.6 201,2257.6 189.8,2268.8" fill="#fff"/><polygon points="178.6,2257.6 189.8,2246.4 201,2257.6 189.8,2268.8" fill="none" stroke="#00f8f8" stroke-width="2"/>
<polygon points="181,2248.8 193.4,2236.4 205.8,2248.8" fill="#00f8f8"/><polygon points="182.2,2248.8 204.6,2248.8 193.4,2260" fill="#fff"/><polygon points="182.2,2248.8 193.4,2237.6 204.6,2248.8 193.4,2260" fill="none" stroke="#00f8f8" stroke-width="2"/>
<polygon points="192.8,2218.3 205.2,2205.9 217.6,2218.3" fill="#00f8f8"/><polygon points="194,2218.3 216.4,2218.3 205.2,2229.5" fill="#fff"/><polygon points="194,2218.3 205.2,2207.1 216.4,2218.3 205.2,2229.5" fill="none" stroke="#00f8f8" stroke-width="2"/>
<polygon points="208.5,2190.5 220.9,2178.1 233.3,2190.5" fill="#00f8f8"/><polygon points="209.7,2190.5 232.1,2190.5 220.9,2201.7" fill="#fff"/><polygon points="209.7,2190.5 220.9,2179.3 232.1,2190.5 220.9,2201.7" fill="none" stroke="#00f8f8" stroke-width="2"/>
<polygon points="224.3,2174.5 236.7,2162.1 249.1,2174.5" fill="#00f8f8"/><polygon points="225.5,2174.5 247.9,2174.5 236.7,2185.7" fill="#fff"/><polygon points="225.5,2174.5 236.7,2163.3 247.9,2174.5 236.7,2185.7" fill="none" stroke="#00f8f8" stroke-width="2"/>
<polygon points="240.9,2162 253.3,2149.6 265.7,2162" fill="#00f8f8"/><polygon points="242.1,2162 264.5,2162 253.3,2173.2" fill="#fff"/><polygon points="242.1,2162 253.3,2150.8 264.5,2162 253.3,2173.2" fill="none" stroke="#00f8f8" stroke-width="2"/>
<polygon points="257.7,2149 270.1,2136.6 282.5,2149" fill="#00f8f8"/><polygon points="258.9,2149 281.3,2149 270.1,2160.2" fill="#fff"/><polygon points="258.9,2149 270.1,2137.8 281.3,2149 270.1,2160.2" fill="none" stroke="#00f8f8" stroke-width="2"/>
<polygon points="286.8,2134.1 299.2,2121.7 311.6,2134.1" fill="#00f8f8"/><polygon points="288,2134.1 310.4,2134.1 299.2,2145.3" fill="#fff"/><polygon points="288,2134.1 299.2,2122.9 310.4,2134.1 299.2,2145.3" fill="none" stroke="#00f8f8" stroke-width="2"/>
<polygon points="315.7,2120.4 328.1,2108 340.5,2120.4" fill="#00f8f8"/><polygon points="316.9,2120.4 339.3,2120.4 328.1,2131.6" fill="#fff"/><polygon points="316.9,2120.4 328.1,2109.2 339.3,2120.4 328.1,2131.6" fill="none" stroke="#00f8f8" stroke-width="2"/>
<polygon points="345.1,2110.9 357.5,2098.5 369.9,2110.9" fill="#00f8f8"/><polygon points="346.3,2110.9 368.7,2110.9 357.5,2122.1" fill="#fff"/><polygon points="346.3,2110.9 357.5,2099.7 368.7,2110.9 357.5,2122.1" fill="none" stroke="#00f8f8" stroke-width="2"/>
<polygon points="374.8,2102.8 387.2,2090.4 399.6,2102.8" fill="#00f8f8"/><polygon points="376,2102.8 398.4,2102.8 387.2,2114" fill="#fff"/><polygon points="376,2102.8 387.2,2091.6 398.4,2102.8 387.2,2114" fill="none" stroke="#00f8f8" stroke-width="2"/>
<polygon points="404.3,2094.8 416.7,2082.4 429.1,2094.8" fill="#00f8f8"/><polygon points="405.5,2094.8 427.9,2094.8 416.7,2106" fill="#fff"/><polygon points="405.5,2094.8 416.7,2083.6 427.9,2094.8 416.7,2106" fill="none" stroke="#00f8f8" stroke-width="2"/>
<polygon points="434.1,2084.4 446.5,2072 458.9,2084.4" fill="#00f8f8"/><polygon points="435.3,2084.4 457.7,2084.4 446.5,2095.6" fill="#fff"/><polygon points="435.3,2084.4 446.5,2073.2 457.7,2084.4 446.5,2095.6" fill="none" stroke="#00f8f8" stroke-width="2"/>
<polygon points="464.3,2080.2 476.7,2067.8 489.1,2080.2" fill="#00f8f8"/><polygon points="465.5,2080.2 487.9,2080.2 476.7,2091.4" fill="#fff"/><polygon points="465.5,2080.2 476.7,2069 487.9,2080.2 476.7,2091.4" fill="none" stroke="#00f8f8" stroke-width="2"/>
<polygon points="494.5,2076.7 506.9,2064.3 519.3,2076.7" fill="#00f8f8"/><polygon points="495.7,2076.7 518.1,2076.7 506.9,2087.9" fill="#fff"/><polygon points="495.7,2076.7 506.9,2065.5 518.1,2076.7 506.9,2087.9" fill="none" stroke="#00f8f8" stroke-width="2"/>
<polygon points="524.7,2069.7 537.1,2057.3 549.5,2069.7" fill="#00f8f8"/><polygon points="525.9,2069.7 548.3,2069.7 537.1,2080.9" fill="#fff"/><polygon points="525.9,2069.7 537.1,2058.5 548.3,2069.7 537.1,2080.9" fill="none" stroke="#00f8f8" stroke-width="2"/>
<polygon points="554.8,2065.8 567.2,2053.4 579.6,2065.8" fill="#00f8f8"/><polygon points="556,2065.8 578.4,2065.8 567.2,2077" fill="#fff"/><polygon points="556,2065.8 567.2,2054.6 578.4,2065.8 567.2,2077" fill="none" stroke="#00f8f8" stroke-width="2"/>
<polygon points="585,2062.8 597.4,2050.4 609.8,2062.8" fill="#00f8f8"/><polygon points="586.2,2062.8 608.6,2062.8 597.4,2074" fill="#fff"/><polygon points="586.2,2062.8 597.4,2051.6 608.6,2062.8 597.4,2074" fill="none" stroke="#00f8f8" stroke-width="2"/>
<polygon points="615,2056.5 627.4,2044.1 639.8,2056.5" fill="#00f8f8"/><polygon points="616.2,2056.5 638.6,2056.5 627.4,2067.7" fill="#fff"/><polygon points="616.2,2056.5 627.4,2045.3 638.6,2056.5 627.4,2067.7" fill="none" stroke="#00f8f8" stroke-width="2"/>
<polygon points="644.5,2050.7 656.9,2038.3 669.3,2050.7" fill="#00f8f8"/><polygon points="645.7,2050.7 668.1,2050.7 656.9,2061.9" fill="#fff"/><polygon points="645.7,2050.7 656.9,2039.5 668.1,2050.7 656.9,2061.9" fill="none" stroke="#00f8f8" stroke-width="2"/>
<polygon points="674.7,2046 687.1,2033.6 699.5,2046" fill="#00f8f8"/><polygon points="675.9,2046 698.3,2046 687.1,2057.2" fill="#fff"/><polygon points="675.9,2046 687.1,2034.8 698.3,2046 687.1,2057.2" fill="none" stroke="#00f8f8" stroke-width="2"/>
<polygon points="703.7,2035.6 716.1,2023.2 728.5,2035.6" fill="#00f8f8"/><polygon points="704.9,2035.6 727.3,2035.6 716.1,2046.8" fill="#fff"/><polygon points="704.9,2035.6 716.1,2024.4 727.3,2035.6 716.1,2046.8" fill="none" stroke="#00f8f8" stroke-width="2"/>
<polygon points="734.4,2037.9 746.8,2025.5 759.2,2037.9" fill="#00f8f8"/><polygon points="735.6,2037.9 758,2037.9 746.8,2049.1" fill="#fff"/><polygon points="735.6,2037.9 746.8,2026.7 758,2037.9 746.8,2049.1" fill="none" stroke="#00f8f8" stroke-width="2"/>
<polygon points="765.3,2033.2 777.7,2020.8 790.1,2033.2" fill="#00f8f8"/><polygon points="766.5,2033.2 788.9,2033.2 777.7,2044.4" fill="#fff"/><polygon points="766.5,2033.2 777.7,2022 788.9,2033.2 777.7,2044.4" fill="none" stroke="#00f8f8" stroke-width="2"/>
<polygon points="795.5,2034 807.9,2021.6 820.3,2034" fill="#00f8f8"/><polygon points="796.7,2034 819.1,2034 807.9,2045.2" fill="#fff"/><polygon points="796.7,2034 807.9,2022.8 819.1,2034 807.9,2045.2" fill="none" stroke="#00f8f8" stroke-width="2"/>
<polygon points="825.9,2032.2 838.3,2019.8 850.7,2032.2" fill="#00f8f8"/><polygon points="827.1,2032.2 849.5,2032.2 838.3,2043.4" fill="#fff"/><polygon points="827.1,2032.2 838.3,2021 849.5,2032.2 838.3,2043.4" fill="none" stroke="#00f8f8" stroke-width="2"/>
<polygon points="856.3,2029.7 868.7,2017.3 881.1,2029.7" fill="#00f8f8"/><polygon points="857.5,2029.7 879.9,2029.7 868.7,2040.9" fill="#fff"/><polygon points="857.5,2029.7 868.7,2018.5 879.9,2029.7 868.7,2040.9" fill="none" stroke="#00f8f8" stroke-width="2"/>
<polyline points="151,2308 152,2302.2 153.9,2295.6 156.7,2289.9 159.6,2284.2 162.4,2278.5 167.2,2269.9 172.9,2261.4 177,2249 183.5,2238 188.5,2225 201.8,2190.8 217.4,2164.9 233.4,2142.8 249.5,2123.2 266.2,2106.7 293.7,2083.8 322.1,2064 350.6,2045 379.4,2027.9 408.5,2012.7 437.6,1997.5 466.9,1982.2 496.5,1968.5 525,1955.7 554.5,1941.8 583.6,1927.8 612.6,1910.4 641.7,1897.6 671.7,1884.3 701.1,1876.9 730.1,1864.1 760.3,1856 790.1,1846.7 819.6,1836.2 849.1,1828.1" fill="none" stroke="#f0087a" stroke-width="1.3"/>
<polygon points="138.07,2308 157.47,2295.8 157.47,2308" fill="#f0087a"/><polygon points="139.67,2308 156.47,2308 156.47,2318.9" fill="#fff"/><polygon points="139.67,2308 156.47,2297.1 156.47,2318.9" fill="none" stroke="#f0087a" stroke-width="2"/>
<polygon points="139.07,2302.2 158.47,2290 158.47,2302.2" fill="#f0087a"/><polygon points="140.67,2302.2 157.47,2302.2 157.47,2313.1" fill="#fff"/><polygon points="140.67,2302.2 157.47,2291.3 157.47,2313.1" fill="none" stroke="#f0087a" stroke-width="2"/>
<polygon points="140.97,2295.6 160.37,2283.4 160.37,2295.6" fill="#f0087a"/><polygon points="142.57,2295.6 159.37,2295.6 159.37,2306.5" fill="#fff"/><polygon points="142.57,2295.6 159.37,2284.7 159.37,2306.5" fill="none" stroke="#f0087a" stroke-width="2"/>
<polygon points="143.77,2289.9 163.17,2277.7 163.17,2289.9" fill="#f0087a"/><polygon points="145.37,2289.9 162.17,2289.9 162.17,2300.8" fill="#fff"/><polygon points="145.37,2289.9 162.17,2279 162.17,2300.8" fill="none" stroke="#f0087a" stroke-width="2"/>
<polygon points="146.67,2284.2 166.07,2272 166.07,2284.2" fill="#f0087a"/><polygon points="148.27,2284.2 165.07,2284.2 165.07,2295.1" fill="#fff"/><polygon points="148.27,2284.2 165.07,2273.3 165.07,2295.1" fill="none" stroke="#f0087a" stroke-width="2"/>
<polygon points="149.47,2278.5 168.87,2266.3 168.87,2278.5" fill="#f0087a"/><polygon points="151.07,2278.5 167.87,2278.5 167.87,2289.4" fill="#fff"/><polygon points="151.07,2278.5 167.87,2267.6 167.87,2289.4" fill="none" stroke="#f0087a" stroke-width="2"/>
<polygon points="154.27,2269.9 173.67,2257.7 173.67,2269.9" fill="#f0087a"/><polygon points="155.87,2269.9 172.67,2269.9 172.67,2280.8" fill="#fff"/><polygon points="155.87,2269.9 172.67,2259 172.67,2280.8" fill="none" stroke="#f0087a" stroke-width="2"/>
<polygon points="159.97,2261.4 179.37,2249.2 179.37,2261.4" fill="#f0087a"/><polygon points="161.57,2261.4 178.37,2261.4 178.37,2272.3" fill="#fff"/><polygon points="161.57,2261.4 178.37,2250.5 178.37,2272.3" fill="none" stroke="#f0087a" stroke-width="2"/>
<polygon points="164.07,2249 183.47,2236.8 183.47,2249" fill="#f0087a"/><polygon points="165.67,2249 182.47,2249 182.47,2259.9" fill="#fff"/><polygon points="165.67,2249 182.47,2238.1 182.47,2259.9" fill="none" stroke="#f0087a" stroke-width="2"/>
<polygon points="170.57,2238 189.97,2225.8 189.97,2238" fill="#f0087a"/><polygon points="172.17,2238 188.97,2238 188.97,2248.9" fill="#fff"/><polygon points="172.17,2238 188.97,2227.1 188.97,2248.9" fill="none" stroke="#f0087a" stroke-width="2"/>
<polygon points="175.57,2225 194.97,2212.8 194.97,2225" fill="#f0087a"/><polygon points="177.17,2225 193.97,2225 193.97,2235.9" fill="#fff"/><polygon points="177.17,2225 193.97,2214.1 193.97,2235.9" fill="none" stroke="#f0087a" stroke-width="2"/>
<polygon points="188.87,2190.8 208.27,2178.6 208.27,2190.8" fill="#f0087a"/><polygon points="190.47,2190.8 207.27,2190.8 207.27,2201.7" fill="#fff"/><polygon points="190.47,2190.8 207.27,2179.9 207.27,2201.7" fill="none" stroke="#f0087a" stroke-width="2"/>
<polygon points="204.47,2164.9 223.87,2152.7 223.87,2164.9" fill="#f0087a"/><polygon points="206.07,2164.9 222.87,2164.9 222.87,2175.8" fill="#fff"/><polygon points="206.07,2164.9 222.87,2154 222.87,2175.8" fill="none" stroke="#f0087a" stroke-width="2"/>
<polygon points="220.47,2142.8 239.87,2130.6 239.87,2142.8" fill="#f0087a"/><polygon points="222.07,2142.8 238.87,2142.8 238.87,2153.7" fill="#fff"/><polygon points="222.07,2142.8 238.87,2131.9 238.87,2153.7" fill="none" stroke="#f0087a" stroke-width="2"/>
<polygon points="236.57,2123.2 255.97,2111 255.97,2123.2" fill="#f0087a"/><polygon points="238.17,2123.2 254.97,2123.2 254.97,2134.1" fill="#fff"/><polygon points="238.17,2123.2 254.97,2112.3 254.97,2134.1" fill="none" stroke="#f0087a" stroke-width="2"/>
<polygon points="253.27,2106.7 272.67,2094.5 272.67,2106.7" fill="#f0087a"/><polygon points="254.87,2106.7 271.67,2106.7 271.67,2117.6" fill="#fff"/><polygon points="254.87,2106.7 271.67,2095.8 271.67,2117.6" fill="none" stroke="#f0087a" stroke-width="2"/>
<polygon points="280.77,2083.8 300.17,2071.6 300.17,2083.8" fill="#f0087a"/><polygon points="282.37,2083.8 299.17,2083.8 299.17,2094.7" fill="#fff"/><polygon points="282.37,2083.8 299.17,2072.9 299.17,2094.7" fill="none" stroke="#f0087a" stroke-width="2"/>
<polygon points="309.17,2064 328.57,2051.8 328.57,2064" fill="#f0087a"/><polygon points="310.77,2064 327.57,2064 327.57,2074.9" fill="#fff"/><polygon points="310.77,2064 327.57,2053.1 327.57,2074.9" fill="none" stroke="#f0087a" stroke-width="2"/>
<polygon points="337.67,2045 357.07,2032.8 357.07,2045" fill="#f0087a"/><polygon points="339.27,2045 356.07,2045 356.07,2055.9" fill="#fff"/><polygon points="339.27,2045 356.07,2034.1 356.07,2055.9" fill="none" stroke="#f0087a" stroke-width="2"/>
<polygon points="366.47,2027.9 385.87,2015.7 385.87,2027.9" fill="#f0087a"/><polygon points="368.07,2027.9 384.87,2027.9 384.87,2038.8" fill="#fff"/><polygon points="368.07,2027.9 384.87,2017 384.87,2038.8" fill="none" stroke="#f0087a" stroke-width="2"/>
<polygon points="395.57,2012.7 414.97,2000.5 414.97,2012.7" fill="#f0087a"/><polygon points="397.17,2012.7 413.97,2012.7 413.97,2023.6" fill="#fff"/><polygon points="397.17,2012.7 413.97,2001.8 413.97,2023.6" fill="none" stroke="#f0087a" stroke-width="2"/>
<polygon points="424.67,1997.5 444.07,1985.3 444.07,1997.5" fill="#f0087a"/><polygon points="426.27,1997.5 443.07,1997.5 443.07,2008.4" fill="#fff"/><polygon points="426.27,1997.5 443.07,1986.6 443.07,2008.4" fill="none" stroke="#f0087a" stroke-width="2"/>
<polygon points="453.97,1982.2 473.37,1970 473.37,1982.2" fill="#f0087a"/><polygon points="455.57,1982.2 472.37,1982.2 472.37,1993.1" fill="#fff"/><polygon points="455.57,1982.2 472.37,1971.3 472.37,1993.1" fill="none" stroke="#f0087a" stroke-width="2"/>
<polygon points="483.57,1968.5 502.97,1956.3 502.97,1968.5" fill="#f0087a"/><polygon points="485.17,1968.5 501.97,1968.5 501.97,1979.4" fill="#fff"/><polygon points="485.17,1968.5 501.97,1957.6 501.97,1979.4" fill="none" stroke="#f0087a" stroke-width="2"/>
<polygon points="512.07,1955.7 531.47,1943.5 531.47,1955.7" fill="#f0087a"/><polygon points="513.67,1955.7 530.47,1955.7 530.47,1966.6" fill="#fff"/><polygon points="513.67,1955.7 530.47,1944.8 530.47,1966.6" fill="none" stroke="#f0087a" stroke-width="2"/>
<polygon points="541.57,1941.8 560.97,1929.6 560.97,1941.8" fill="#f0087a"/><polygon points="543.17,1941.8 559.97,1941.8 559.97,1952.7" fill="#fff"/><polygon points="543.17,1941.8 559.97,1930.9 559.97,1952.7" fill="none" stroke="#f0087a" stroke-width="2"/>
<polygon points="570.67,1927.8 590.07,1915.6 590.07,1927.8" fill="#f0087a"/><polygon points="572.27,1927.8 589.07,1927.8 589.07,1938.7" fill="#fff"/><polygon points="572.27,1927.8 589.07,1916.9 589.07,1938.7" fill="none" stroke="#f0087a" stroke-width="2"/>
<polygon points="599.67,1910.4 619.07,1898.2 619.07,1910.4" fill="#f0087a"/><polygon points="601.27,1910.4 618.07,1910.4 618.07,1921.3" fill="#fff"/><polygon points="601.27,1910.4 618.07,1899.5 618.07,1921.3" fill="none" stroke="#f0087a" stroke-width="2"/>
<polygon points="628.77,1897.6 648.17,1885.4 648.17,1897.6" fill="#f0087a"/><polygon points="630.37,1897.6 647.17,1897.6 647.17,1908.5" fill="#fff"/><polygon points="630.37,1897.6 647.17,1886.7 647.17,1908.5" fill="none" stroke="#f0087a" stroke-width="2"/>
<polygon points="658.77,1884.3 678.17,1872.1 678.17,1884.3" fill="#f0087a"/><polygon points="660.37,1884.3 677.17,1884.3 677.17,1895.2" fill="#fff"/><polygon points="660.37,1884.3 677.17,1873.4 677.17,1895.2" fill="none" stroke="#f0087a" stroke-width="2"/>
<polygon points="688.17,1876.9 707.57,1864.7 707.57,1876.9" fill="#f0087a"/><polygon points="689.77,1876.9 706.57,1876.9 706.57,1887.8" fill="#fff"/><polygon points="689.77,1876.9 706.57,1866 706.57,1887.8" fill="none" stroke="#f0087a" stroke-width="2"/>
<polygon points="717.17,1864.1 736.57,1851.9 736.57,1864.1" fill="#f0087a"/><polygon points="718.77,1864.1 735.57,1864.1 735.57,1875" fill="#fff"/><polygon points="718.77,1864.1 735.57,1853.2 735.57,1875" fill="none" stroke="#f0087a" stroke-width="2"/>
<polygon points="747.37,1856 766.77,1843.8 766.77,1856" fill="#f0087a"/><polygon points="748.97,1856 765.77,1856 765.77,1866.9" fill="#fff"/><polygon points="748.97,1856 765.77,1845.1 765.77,1866.9" fill="none" stroke="#f0087a" stroke-width="2"/>
<polygon points="777.17,1846.7 796.57,1834.5 796.57,1846.7" fill="#f0087a"/><polygon points="778.77,1846.7 795.57,1846.7 795.57,1857.6" fill="#fff"/><polygon points="778.77,1846.7 795.57,1835.8 795.57,1857.6" fill="none" stroke="#f0087a" stroke-width="2"/>
<polygon points="806.67,1836.2 826.07,1824 826.07,1836.2" fill="#f0087a"/><polygon points="808.27,1836.2 825.07,1836.2 825.07,1847.1" fill="#fff"/><polygon points="808.27,1836.2 825.07,1825.3 825.07,1847.1" fill="none" stroke="#f0087a" stroke-width="2"/>
<polygon points="836.17,1828.1 855.57,1815.9 855.57,1828.1" fill="#f0087a"/><polygon points="837.77,1828.1 854.57,1828.1 854.57,1839" fill="#fff"/><polygon points="837.77,1828.1 854.57,1817.2 854.57,1839" fill="none" stroke="#f0087a" stroke-width="2"/>
</g>
<path d="M151.8,1686.6 V2309 M150.3,2309 H923.85" stroke="#000" stroke-width="2.7" fill="none"/>
<path d="M176.12,2309 v-5.5 M200.2,2309 v-10.5 M224.28,2309 v-5.5 M248.35,2309 v-10.5 M272.43,2309 v-5.5 M296.5,2309 v-10.5 M320.58,2309 v-5.5 M344.65,2309 v-10.5 M368.73,2309 v-5.5 M392.8,2309 v-10.5 M416.88,2309 v-5.5 M440.95,2309 v-10.5 M465.02,2309 v-5.5 M489.1,2309 v-10.5 M513.17,2309 v-5.5 M537.25,2309 v-10.5 M561.33,2309 v-5.5 M585.4,2309 v-10.5 M609.48,2309 v-5.5 M633.55,2309 v-10.5 M657.62,2309 v-5.5 M681.7,2309 v-10.5 M705.78,2309 v-5.5 M729.85,2309 v-10.5 M753.92,2309 v-5.5 M778,2309 v-10.5 M802.08,2309 v-5.5 M826.15,2309 v-10.5 M850.22,2309 v-5.5 M874.3,2309 v-10.5 M898.38,2309 v-5.5 M922.45,2309 v-10.5 M151.8,2205.5 h5.5 M151.8,2102 h11 M151.8,1998.5 h5.5 M151.8,1895 h11 M151.8,1791.5 h5.5 M151.8,1688 h11" stroke="#000" stroke-width="2.6" fill="none"/>
<text x="117.4" y="2321.2" font-size="42">0</text>
<text x="118.12" y="2114.2" font-size="42">2</text>
<text x="116.46" y="1907.2" font-size="42">4</text>
<text x="117.05" y="1700.2" font-size="42">6</text>
<text x="152.65" y="2354.5" font-size="42" text-anchor="middle">0</text>
<text x="200.8" y="2354.5" font-size="42" text-anchor="middle">1</text>
<text x="248.95" y="2354.5" font-size="42" text-anchor="middle">2</text>
<text x="297.1" y="2354.5" font-size="42" text-anchor="middle">3</text>
<text x="345.25" y="2354.5" font-size="42" text-anchor="middle">4</text>
<text x="393.4" y="2354.5" font-size="42" text-anchor="middle">5</text>
<text x="441.55" y="2354.5" font-size="42" text-anchor="middle">6</text>
<text x="489.7" y="2354.5" font-size="42" text-anchor="middle">7</text>
<text x="537.85" y="2354.5" font-size="42" text-anchor="middle">8</text>
<text x="586" y="2354.5" font-size="42" text-anchor="middle">9</text>
<text x="634.15" y="2354.5" font-size="42" text-anchor="middle">10</text>
<text x="682.3" y="2354.5" font-size="42" text-anchor="middle">11</text>
<text x="730.45" y="2354.5" font-size="42" text-anchor="middle">12</text>
<text x="778.6" y="2354.5" font-size="42" text-anchor="middle">13</text>
<text x="826.75" y="2354.5" font-size="42" text-anchor="middle">14</text>
<text x="874.9" y="2354.5" font-size="42" text-anchor="middle">15</text>
<text x="923.05" y="2354.5" font-size="42" text-anchor="middle">16</text>
<text x="408.6" y="2418.1" font-size="40.84">Axial strain</text>
<text transform="translate(610.94,2418.1) scale(1.107,1.000)" font-size="40.84">ε</text>
<text transform="translate(628.41,2429.06) scale(1.184,1.000)" font-size="28.59" font-style="italic">a</text>
<line x1="665.57" y1="2420.39" x2="682.2" y2="2386.83" stroke="#000" stroke-width="2.19"/>
<text transform="translate(684.37,2418.1) scale(1.014,1.000)" font-size="40.84">%</text>
<g transform="translate(52.5,2275.8) rotate(-90)"><text x="-1.18" y="0" font-size="40.85">Deviatoric stress</text>
<text transform="translate(275.59,0) scale(1.020,1.000)" font-size="40.85" font-style="italic">(</text>
<g transform="skewX(-12)"><path d="M290.62,-8.82 a9.27,9.81 0 1,0 18.53,0 a9.27,9.81 0 1,0 -18.53,0 Z M293.31,-8.82 a6.58,8.32 0 1,0 13.15,0 a6.58,8.32 0 1,0 -13.15,0 Z" fill="#000" fill-rule="evenodd"/><rect x="299.89" y="-18.63" width="13.92" height="2.49" fill="#000"/></g>
<text transform="translate(314.7,11.46) scale(0.859,1.000)" font-size="29.89" font-style="italic">1</text>
<rect x="332.15" y="-11.16" width="20.32" height="2.59" fill="#000"/>
<g transform="skewX(-12)"><path d="M352.29,-8.82 a9.27,9.81 0 1,0 18.53,0 a9.27,9.81 0 1,0 -18.53,0 Z M354.98,-8.82 a6.58,8.32 0 1,0 13.15,0 a6.58,8.32 0 1,0 -13.15,0 Z" fill="#000" fill-rule="evenodd"/><rect x="361.56" y="-18.63" width="14.22" height="2.49" fill="#000"/></g>
<text transform="translate(372.76,12.15) scale(1.056,1.000)" font-size="30.39">3</text>
<text transform="translate(388.79,0) scale(1.016,1.000)" font-size="40.85">)</text>
<text transform="translate(413.34,0) scale(0.939,1.000)" font-size="40.85">/</text>
<text transform="translate(435.6,0) scale(0.988,1.000)" font-size="40.85">10</text>
<text transform="translate(474.94,-16.44) scale(1.075,1.000)" font-size="28.89">2</text>
<text transform="translate(496.44,0) scale(1.009,1.000)" font-size="40.85">kPa</text></g>
<line x1="162.8" y1="1692" x2="199.7" y2="1692" stroke="#000000" stroke-width="1.6"/>
<rect x="173.01" y="1684.11" width="15.79" height="15.79" fill="#000000"/>
<text transform="translate(208.33,1698.43) scale(0.934,1.000)" font-size="18.36">(</text>
<path d="M215.6,1692.41 a7.21,6.33 0 1,0 14.41,0 a7.21,6.33 0 1,0 -14.41,0 Z M218.22,1692.41 a4.59,4.87 0 1,0 9.18,0 a4.59,4.87 0 1,0 -9.18,0 Z" fill="#000" fill-rule="evenodd"/>
<rect x="221.02" y="1685.3" width="10.83" height="2.2" fill="#000"/>
<text transform="translate(232.28,1703.29) scale(0.958,1.000)" font-size="20.66">3</text>
<rect x="243.6" y="1690.9" width="7.53" height="2.39" fill="#000"/>
<text transform="translate(251.26,1698.33) scale(1.261,1.000)" font-size="27.08" font-style="italic">u</text>
<text transform="translate(267.2,1703.57) scale(1.073,1.000)" font-size="19.28">a</text>
<text transform="translate(277.17,1698.52) scale(0.973,1.000)" font-size="18.36">)</text>
<text transform="translate(299.03,1703.8) scale(0.964,1.000)" font-size="21.11">undisturbed loess</text>
<line x1="442" y1="1702.7" x2="453.5" y2="1676.3" stroke="#000" stroke-width="1.5"/>
<text transform="translate(454.73,1698.5) scale(1.049,1.000)" font-size="29">50 kPa</text>
<line x1="162.8" y1="1736.3" x2="199.7" y2="1736.3" stroke="#f24141" stroke-width="1.6"/>
<circle cx="180.9" cy="1736.3" r="9.18" fill="#f24141"/>
<text transform="translate(208.33,1742.73) scale(0.934,1.000)" font-size="18.36">(</text>
<path d="M215.6,1736.71 a7.21,6.33 0 1,0 14.41,0 a7.21,6.33 0 1,0 -14.41,0 Z M218.22,1736.71 a4.59,4.87 0 1,0 9.18,0 a4.59,4.87 0 1,0 -9.18,0 Z" fill="#000" fill-rule="evenodd"/>
<rect x="221.02" y="1729.6" width="10.83" height="2.2" fill="#000"/>
<text transform="translate(232.28,1747.59) scale(0.958,1.000)" font-size="20.66">3</text>
<rect x="243.6" y="1735.2" width="7.53" height="2.39" fill="#000"/>
<text transform="translate(251.26,1742.63) scale(1.261,1.000)" font-size="27.08" font-style="italic">u</text>
<text transform="translate(267.2,1747.87) scale(1.073,1.000)" font-size="19.28">a</text>
<text transform="translate(277.17,1742.82) scale(0.973,1.000)" font-size="18.36">)</text>
<text transform="translate(299.03,1748.1) scale(0.964,1.000)" font-size="21.11">undisturbed loess</text>
<line x1="442" y1="1747" x2="453.5" y2="1720.6" stroke="#000" stroke-width="1.5"/>
<text transform="translate(453.8,1742.8) scale(1.059,1.000)" font-size="29">100 kPa</text>
<line x1="162.8" y1="1780.6" x2="199.7" y2="1780.6" stroke="#00f000" stroke-width="1.6"/>
<polygon points="180.9,1767.99 191.92,1786.9 169.88,1786.9" fill="#00f000"/>
<text transform="translate(208.33,1787.03) scale(0.934,1.000)" font-size="18.36">(</text>
<path d="M215.6,1781.01 a7.21,6.33 0 1,0 14.41,0 a7.21,6.33 0 1,0 -14.41,0 Z M218.22,1781.01 a4.59,4.87 0 1,0 9.18,0 a4.59,4.87 0 1,0 -9.18,0 Z" fill="#000" fill-rule="evenodd"/>
<rect x="221.02" y="1773.9" width="10.83" height="2.2" fill="#000"/>
<text transform="translate(232.28,1791.89) scale(0.958,1.000)" font-size="20.66">3</text>
<rect x="243.6" y="1779.5" width="7.53" height="2.39" fill="#000"/>
<text transform="translate(251.26,1786.93) scale(1.261,1.000)" font-size="27.08" font-style="italic">u</text>
<text transform="translate(267.2,1792.17) scale(1.073,1.000)" font-size="19.28">a</text>
<text transform="translate(277.17,1787.12) scale(0.973,1.000)" font-size="18.36">)</text>
<text transform="translate(299.03,1792.4) scale(0.964,1.000)" font-size="21.11">undisturbed loess</text>
<line x1="442" y1="1791.3" x2="453.5" y2="1764.9" stroke="#000" stroke-width="1.5"/>
<text transform="translate(455.17,1787.1) scale(1.045,1.000)" font-size="29">200 kPa</text>
<line x1="162.8" y1="1824.9" x2="199.7" y2="1824.9" stroke="#0000ff" stroke-width="1.6"/>
<polygon points="170.07,1818.47 191.73,1818.47 188.12,1824.9 173.68,1824.9" fill="#0000ff"/><polygon points="174.28,1824.9 187.52,1824.9 180.9,1836.15" fill="#fff"/><polygon points="171.27,1819.27 190.53,1819.27 180.9,1836.15" fill="none" stroke="#0000ff" stroke-width="2"/>
<text transform="translate(208.33,1831.33) scale(0.934,1.000)" font-size="18.36">(</text>
<path d="M215.6,1825.31 a7.21,6.33 0 1,0 14.41,0 a7.21,6.33 0 1,0 -14.41,0 Z M218.22,1825.31 a4.59,4.87 0 1,0 9.18,0 a4.59,4.87 0 1,0 -9.18,0 Z" fill="#000" fill-rule="evenodd"/>
<rect x="221.02" y="1818.2" width="10.83" height="2.2" fill="#000"/>
<text transform="translate(232.28,1836.19) scale(0.958,1.000)" font-size="20.66">3</text>
<rect x="243.6" y="1823.8" width="7.53" height="2.39" fill="#000"/>
<text transform="translate(251.26,1831.23) scale(1.261,1.000)" font-size="27.08" font-style="italic">u</text>
<text transform="translate(267.2,1836.47) scale(1.073,1.000)" font-size="19.28">a</text>
<text transform="translate(277.17,1831.42) scale(0.973,1.000)" font-size="18.36">)</text>
<text transform="translate(292.49,1835.4) scale(0.965,1.000)" font-size="21.11">remolded loess</text>
<line x1="416.1" y1="1834.7" x2="427.8" y2="1808.3" stroke="#000" stroke-width="1.5"/>
<text transform="translate(428.94,1830.7) scale(1.042,1.000)" font-size="29">50 kPa</text>
<line x1="162.8" y1="1869.2" x2="199.7" y2="1869.2" stroke="#00f8f8" stroke-width="1.6"/>
<polygon points="169.52,1869.2 180.9,1857.82 192.28,1869.2" fill="#00f8f8"/><polygon points="170.72,1869.2 191.08,1869.2 180.9,1879.38" fill="#fff"/><polygon points="170.72,1869.2 180.9,1859.02 191.08,1869.2 180.9,1879.38" fill="none" stroke="#00f8f8" stroke-width="2"/>
<text transform="translate(208.33,1875.63) scale(0.934,1.000)" font-size="18.36">(</text>
<path d="M215.6,1869.61 a7.21,6.33 0 1,0 14.41,0 a7.21,6.33 0 1,0 -14.41,0 Z M218.22,1869.61 a4.59,4.87 0 1,0 9.18,0 a4.59,4.87 0 1,0 -9.18,0 Z" fill="#000" fill-rule="evenodd"/>
<rect x="221.02" y="1862.5" width="10.83" height="2.2" fill="#000"/>
<text transform="translate(232.28,1880.49) scale(0.958,1.000)" font-size="20.66">3</text>
<rect x="243.6" y="1868.1" width="7.53" height="2.39" fill="#000"/>
<text transform="translate(251.26,1875.53) scale(1.261,1.000)" font-size="27.08" font-style="italic">u</text>
<text transform="translate(267.2,1880.77) scale(1.073,1.000)" font-size="19.28">a</text>
<text transform="translate(277.17,1875.72) scale(0.973,1.000)" font-size="18.36">)</text>
<text transform="translate(292.49,1879.7) scale(0.965,1.000)" font-size="21.11">remolded loess</text>
<line x1="416.1" y1="1879" x2="427.8" y2="1852.6" stroke="#000" stroke-width="1.5"/>
<text transform="translate(428.02,1875) scale(1.051,1.000)" font-size="29">100 kPa</text>
<line x1="162.8" y1="1913.5" x2="199.7" y2="1913.5" stroke="#f0087a" stroke-width="1.6"/>
<polygon points="169.03,1913.5 186.84,1902.3 186.84,1913.5" fill="#f0087a"/><polygon points="170.63,1913.5 185.84,1913.5 185.84,1923.4" fill="#fff"/><polygon points="170.63,1913.5 185.84,1903.6 185.84,1923.4" fill="none" stroke="#f0087a" stroke-width="2"/>
<text transform="translate(208.33,1919.93) scale(0.934,1.000)" font-size="18.36">(</text>
<path d="M215.6,1913.91 a7.21,6.33 0 1,0 14.41,0 a7.21,6.33 0 1,0 -14.41,0 Z M218.22,1913.91 a4.59,4.87 0 1,0 9.18,0 a4.59,4.87 0 1,0 -9.18,0 Z" fill="#000" fill-rule="evenodd"/>
<rect x="221.02" y="1906.8" width="10.83" height="2.2" fill="#000"/>
<text transform="translate(232.28,1924.79) scale(0.958,1.000)" font-size="20.66">3</text>
<rect x="243.6" y="1912.4" width="7.53" height="2.39" fill="#000"/>
<text transform="translate(251.26,1919.83) scale(1.261,1.000)" font-size="27.08" font-style="italic">u</text>
<text transform="translate(267.2,1925.07) scale(1.073,1.000)" font-size="19.28">a</text>
<text transform="translate(277.17,1920.02) scale(0.973,1.000)" font-size="18.36">)</text>
<text transform="translate(292.49,1924) scale(0.965,1.000)" font-size="21.11">remolded loess</text>
<line x1="416.1" y1="1923.3" x2="427.8" y2="1896.9" stroke="#000" stroke-width="1.5"/>
<text transform="translate(429.38,1919.3) scale(1.037,1.000)" font-size="29">200 kPa</text>
<text transform="translate(429.3,2467.9) scale(1.093,1.000)" font-size="37.5" font-weight="bold">(c)</text>
<text transform="translate(481.23,2466.3) scale(1.088,1.000)" font-size="33">s</text>
<rect x="499" y="2449.05" width="24.4" height="1.5" fill="#000"/>
<rect x="499" y="2455.45" width="24.4" height="1.5" fill="#000"/>
<text x="525.85" y="2466.3" font-size="33">200 kPa</text>
</svg>
</body></html>
